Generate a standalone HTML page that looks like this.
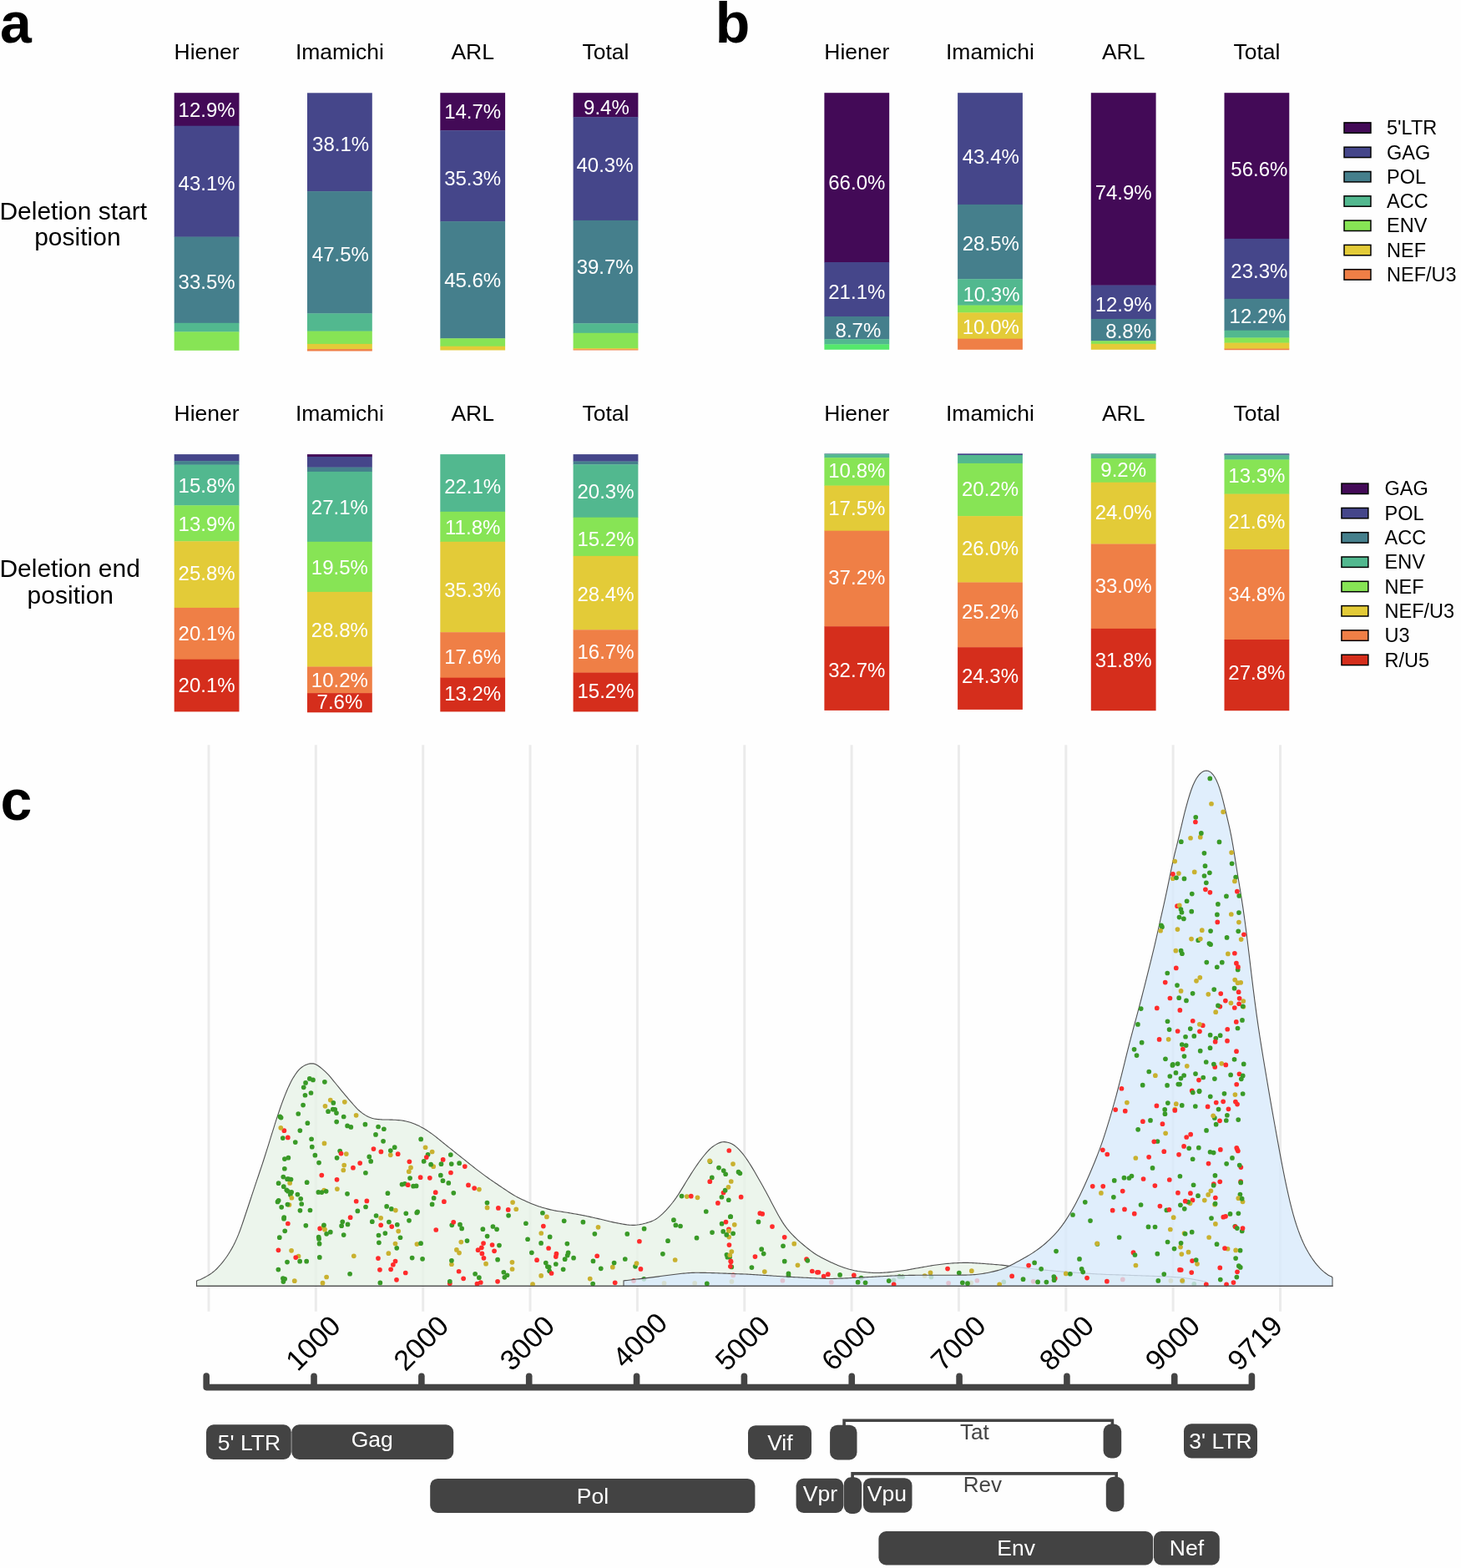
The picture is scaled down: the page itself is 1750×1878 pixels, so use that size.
<!DOCTYPE html>
<html><head><meta charset="utf-8"><title>Figure</title>
<style>
html,body{margin:0;padding:0;background:#fefefe;}
svg{display:block;}
text{font-family:'Liberation Sans', Arial, Helvetica, sans-serif;}
.pct{font-size:24px;fill:#fff;text-anchor:middle;}
.hdr{font-size:26.5px;fill:#000;text-anchor:middle;}
.leg{font-size:23.5px;fill:#000;}
.row{font-size:30px;fill:#000;}
.pl{font-size:68px;font-weight:bold;fill:#000;}
.tick{font-size:34px;fill:#000;}
.gl{font-size:26.5px;fill:#fff;text-anchor:middle;}
.gl2{font-size:26px;fill:#444;text-anchor:middle;}
</style></head>
<body>
<svg width="1750" height="1878" viewBox="0 0 1750 1878">
<rect width="1750" height="1878" fill="#fefefe"/>
<text x="247.6" y="71.4" class="hdr">Hiener</text>
<text x="406.9" y="71.4" class="hdr">Imamichi</text>
<text x="566.2" y="71.4" class="hdr">ARL</text>
<text x="725.5" y="71.4" class="hdr">Total</text>
<text x="247.6" y="504.3" class="hdr">Hiener</text>
<text x="406.9" y="504.3" class="hdr">Imamichi</text>
<text x="566.2" y="504.3" class="hdr">ARL</text>
<text x="725.5" y="504.3" class="hdr">Total</text>
<text x="1026.3" y="71.2" class="hdr">Hiener</text>
<text x="1186" y="71.2" class="hdr">Imamichi</text>
<text x="1345.7" y="71.2" class="hdr">ARL</text>
<text x="1505.4" y="71.2" class="hdr">Total</text>
<text x="1026.3" y="503.6" class="hdr">Hiener</text>
<text x="1186" y="503.6" class="hdr">Imamichi</text>
<text x="1345.7" y="503.6" class="hdr">ARL</text>
<text x="1505.4" y="503.6" class="hdr">Total</text>
<rect x="208.7" y="111.2" width="77.8" height="39.8" fill="#430a57"/>
<rect x="208.7" y="150.7" width="77.8" height="133.2" fill="#45468a"/>
<rect x="208.7" y="283.6" width="77.8" height="103.5" fill="#457f8c"/>
<rect x="208.7" y="386.8" width="77.8" height="10.9" fill="#52b88f"/>
<rect x="208.7" y="397.4" width="77.8" height="22.4" fill="#87e455"/>
<text x="247.6" y="140.4" class="pct">12.9%</text>
<text x="247.6" y="228.2" class="pct">43.1%</text>
<text x="247.6" y="345.6" class="pct">33.5%</text>
<rect x="368" y="111.3" width="77.8" height="118.1" fill="#45468a"/>
<rect x="368" y="229.1" width="77.8" height="146.6" fill="#457f8c"/>
<rect x="368" y="375.4" width="77.8" height="21.5" fill="#52b88f"/>
<rect x="368" y="396.6" width="77.8" height="15.6" fill="#87e455"/>
<rect x="368" y="411.9" width="77.8" height="6.5" fill="#e3cb38"/>
<rect x="368" y="418.1" width="77.8" height="2.4" fill="#ef7f46"/>
<text x="408.1" y="181.3" class="pct">38.1%</text>
<text x="407.9" y="313.1" class="pct">47.5%</text>
<rect x="527.3" y="111.2" width="77.8" height="45.3" fill="#430a57"/>
<rect x="527.3" y="156.2" width="77.8" height="109.2" fill="#45468a"/>
<rect x="527.3" y="265.1" width="77.8" height="140.5" fill="#457f8c"/>
<rect x="527.3" y="405.3" width="77.8" height="9.7" fill="#87e455"/>
<rect x="527.3" y="414.7" width="77.8" height="4.8" fill="#e3cb38"/>
<text x="566.2" y="142.2" class="pct">14.7%</text>
<text x="566.2" y="221.9" class="pct">35.3%</text>
<text x="566.2" y="344.2" class="pct">45.6%</text>
<rect x="686.6" y="111.2" width="77.8" height="29.2" fill="#430a57"/>
<rect x="686.6" y="140.1" width="77.8" height="124.1" fill="#45468a"/>
<rect x="686.6" y="263.9" width="77.8" height="123.7" fill="#457f8c"/>
<rect x="686.6" y="387.3" width="77.8" height="11.8" fill="#52b88f"/>
<rect x="686.6" y="398.8" width="77.8" height="18.6" fill="#87e455"/>
<rect x="686.6" y="417.1" width="77.8" height="1.6" fill="#e3cb38"/>
<rect x="686.6" y="418.4" width="77.8" height="1.1" fill="#ef7f46"/>
<text x="726.4" y="136.9" class="pct">9.4%</text>
<text x="724.5" y="206.3" class="pct">40.3%</text>
<text x="724.7" y="328.4" class="pct">39.7%</text>
<rect x="208.7" y="544.1" width="77.8" height="8.3" fill="#45468a"/>
<rect x="208.7" y="552.1" width="77.8" height="4.8" fill="#457f8c"/>
<rect x="208.7" y="556.6" width="77.8" height="49" fill="#52b88f"/>
<rect x="208.7" y="605.3" width="77.8" height="43.3" fill="#87e455"/>
<rect x="208.7" y="648.3" width="77.8" height="79.9" fill="#e3cb38"/>
<rect x="208.7" y="727.9" width="77.8" height="62.1" fill="#ef7f46"/>
<rect x="208.7" y="789.7" width="77.8" height="62.7" fill="#d52e1c"/>
<text x="247.6" y="589.5" class="pct">15.8%</text>
<text x="247.6" y="636" class="pct">13.9%</text>
<text x="247.6" y="694.9" class="pct">25.8%</text>
<text x="247.6" y="766.9" class="pct">20.1%</text>
<text x="247.6" y="829.3" class="pct">20.1%</text>
<rect x="368" y="544.1" width="77.8" height="3.2" fill="#430a57"/>
<rect x="368" y="547" width="77.8" height="12.9" fill="#45468a"/>
<rect x="368" y="559.6" width="77.8" height="5.6" fill="#457f8c"/>
<rect x="368" y="564.9" width="77.8" height="84.2" fill="#52b88f"/>
<rect x="368" y="648.8" width="77.8" height="60.4" fill="#87e455"/>
<rect x="368" y="708.9" width="77.8" height="89.9" fill="#e3cb38"/>
<rect x="368" y="798.5" width="77.8" height="31.9" fill="#ef7f46"/>
<rect x="368" y="830.1" width="77.8" height="23.2" fill="#d52e1c"/>
<text x="406.9" y="615.8" class="pct">27.1%</text>
<text x="406.9" y="687.8" class="pct">19.5%</text>
<text x="406.9" y="762.5" class="pct">28.8%</text>
<text x="406.9" y="823.1" class="pct">10.2%</text>
<text x="406.9" y="848.6" class="pct">7.6%</text>
<rect x="527.3" y="544.1" width="77.8" height="69" fill="#52b88f"/>
<rect x="527.3" y="612.8" width="77.8" height="36.3" fill="#87e455"/>
<rect x="527.3" y="648.8" width="77.8" height="108.7" fill="#e3cb38"/>
<rect x="527.3" y="757.2" width="77.8" height="54.8" fill="#ef7f46"/>
<rect x="527.3" y="811.7" width="77.8" height="40.7" fill="#d52e1c"/>
<text x="566.2" y="590.9" class="pct">22.1%</text>
<text x="566.2" y="640.4" class="pct">11.8%</text>
<text x="566.2" y="714.6" class="pct">35.3%</text>
<text x="566.2" y="795" class="pct">17.6%</text>
<text x="566.2" y="838.9" class="pct">13.2%</text>
<rect x="686.6" y="544.1" width="77.8" height="8.7" fill="#45468a"/>
<rect x="686.6" y="552.5" width="77.8" height="4.1" fill="#457f8c"/>
<rect x="686.6" y="556.3" width="77.8" height="63.7" fill="#52b88f"/>
<rect x="686.6" y="619.7" width="77.8" height="46.5" fill="#87e455"/>
<rect x="686.6" y="665.9" width="77.8" height="88.7" fill="#e3cb38"/>
<rect x="686.6" y="754.3" width="77.8" height="51.6" fill="#ef7f46"/>
<rect x="686.6" y="805.6" width="77.8" height="46.8" fill="#d52e1c"/>
<text x="725.5" y="597.4" class="pct">20.3%</text>
<text x="725.5" y="654.1" class="pct">15.2%</text>
<text x="725.5" y="720.3" class="pct">28.4%</text>
<text x="725.5" y="788.9" class="pct">16.7%</text>
<text x="725.5" y="836.3" class="pct">15.2%</text>
<rect x="987.4" y="111.2" width="77.8" height="203.1" fill="#430a57"/>
<rect x="987.4" y="314" width="77.8" height="65.3" fill="#45468a"/>
<rect x="987.4" y="379" width="77.8" height="27.5" fill="#457f8c"/>
<rect x="987.4" y="406.2" width="77.8" height="6.5" fill="#52b88f"/>
<rect x="987.4" y="412.4" width="77.8" height="6.4" fill="#55e86c"/>
<text x="1026.3" y="227.4" class="pct">66.0%</text>
<text x="1026.3" y="358.3" class="pct">21.1%</text>
<text x="1027.9" y="403.9" class="pct">8.7%</text>
<rect x="1147.1" y="111.2" width="77.8" height="134" fill="#45468a"/>
<rect x="1147.1" y="244.9" width="77.8" height="89.6" fill="#457f8c"/>
<rect x="1147.1" y="334.2" width="77.8" height="31.7" fill="#52b88f"/>
<rect x="1147.1" y="365.6" width="77.8" height="9.1" fill="#87e455"/>
<rect x="1147.1" y="374.4" width="77.8" height="31.6" fill="#e3cb38"/>
<rect x="1147.1" y="405.7" width="77.8" height="13.1" fill="#ef7f46"/>
<text x="1186.8" y="196.3" class="pct">43.4%</text>
<text x="1186.8" y="300.3" class="pct">28.5%</text>
<text x="1187.5" y="360.9" class="pct">10.3%</text>
<text x="1186.8" y="399.5" class="pct">10.0%</text>
<rect x="1306.8" y="111.2" width="77.8" height="230.7" fill="#430a57"/>
<rect x="1306.8" y="341.6" width="77.8" height="40.7" fill="#45468a"/>
<rect x="1306.8" y="382" width="77.8" height="26.6" fill="#457f8c"/>
<rect x="1306.8" y="408.3" width="77.8" height="3.8" fill="#87e455"/>
<rect x="1306.8" y="411.8" width="77.8" height="7" fill="#e3cb38"/>
<text x="1345.7" y="239.3" class="pct">74.9%</text>
<text x="1345.7" y="372.8" class="pct">12.9%</text>
<text x="1351.7" y="405.3" class="pct">8.8%</text>
<rect x="1466.5" y="111.2" width="77.8" height="175" fill="#430a57"/>
<rect x="1466.5" y="285.9" width="77.8" height="72.3" fill="#45468a"/>
<rect x="1466.5" y="357.9" width="77.8" height="38.1" fill="#457f8c"/>
<rect x="1466.5" y="395.7" width="77.8" height="9.1" fill="#52b88f"/>
<rect x="1466.5" y="404.5" width="77.8" height="6.4" fill="#87e455"/>
<rect x="1466.5" y="410.6" width="77.8" height="7.3" fill="#e3cb38"/>
<rect x="1466.5" y="417.6" width="77.8" height="1.6" fill="#ef7f46"/>
<text x="1508.4" y="210.7" class="pct">56.6%</text>
<text x="1508.4" y="332.8" class="pct">23.3%</text>
<text x="1506.6" y="387.2" class="pct">12.2%</text>
<rect x="987.4" y="543.3" width="77.8" height="1.2" fill="#457f8c"/>
<rect x="987.4" y="544.2" width="77.8" height="4.3" fill="#52b88f"/>
<rect x="987.4" y="548.2" width="77.8" height="33.7" fill="#87e455"/>
<rect x="987.4" y="581.6" width="77.8" height="54.4" fill="#e3cb38"/>
<rect x="987.4" y="635.7" width="77.8" height="114.8" fill="#ef7f46"/>
<rect x="987.4" y="750.2" width="77.8" height="100.7" fill="#d52e1c"/>
<text x="1026.3" y="572.4" class="pct">10.8%</text>
<text x="1026.3" y="616.7" class="pct">17.5%</text>
<text x="1026.3" y="699.6" class="pct">37.2%</text>
<text x="1026.3" y="810.8" class="pct">32.7%</text>
<rect x="1147.1" y="543.3" width="77.8" height="2" fill="#45468a"/>
<rect x="1147.1" y="545" width="77.8" height="10.2" fill="#52b88f"/>
<rect x="1147.1" y="554.9" width="77.8" height="63.5" fill="#87e455"/>
<rect x="1147.1" y="618.1" width="77.8" height="79.7" fill="#e3cb38"/>
<rect x="1147.1" y="697.5" width="77.8" height="78" fill="#ef7f46"/>
<rect x="1147.1" y="775.2" width="77.8" height="74.7" fill="#d52e1c"/>
<text x="1186" y="593.5" class="pct">20.2%</text>
<text x="1186" y="664.5" class="pct">26.0%</text>
<text x="1186" y="740.6" class="pct">25.2%</text>
<text x="1186" y="818.2" class="pct">24.3%</text>
<rect x="1306.8" y="543.3" width="77.8" height="1.2" fill="#457f8c"/>
<rect x="1306.8" y="544.2" width="77.8" height="5.2" fill="#52b88f"/>
<rect x="1306.8" y="549.1" width="77.8" height="28.9" fill="#87e455"/>
<rect x="1306.8" y="577.7" width="77.8" height="74.1" fill="#e3cb38"/>
<rect x="1306.8" y="651.5" width="77.8" height="101.7" fill="#ef7f46"/>
<rect x="1306.8" y="752.9" width="77.8" height="98.3" fill="#d52e1c"/>
<text x="1345.7" y="571" class="pct">9.2%</text>
<text x="1345.7" y="622.3" class="pct">24.0%</text>
<text x="1345.7" y="710.2" class="pct">33.0%</text>
<text x="1345.7" y="799.4" class="pct">31.8%</text>
<rect x="1466.5" y="543.3" width="77.8" height="1.4" fill="#45468a"/>
<rect x="1466.5" y="544.4" width="77.8" height="1.3" fill="#457f8c"/>
<rect x="1466.5" y="545.4" width="77.8" height="5.4" fill="#52b88f"/>
<rect x="1466.5" y="550.5" width="77.8" height="41.4" fill="#87e455"/>
<rect x="1466.5" y="591.6" width="77.8" height="66.7" fill="#e3cb38"/>
<rect x="1466.5" y="658" width="77.8" height="108.3" fill="#ef7f46"/>
<rect x="1466.5" y="766" width="77.8" height="85.2" fill="#d52e1c"/>
<text x="1505.4" y="578" class="pct">13.3%</text>
<text x="1505.4" y="632.5" class="pct">21.6%</text>
<text x="1505.4" y="719.5" class="pct">34.8%</text>
<text x="1505.4" y="813.5" class="pct">27.8%</text>
<rect x="1610.05" y="146.9" width="31.9" height="12.4" fill="#430a57" stroke="#000" stroke-width="1.5"/>
<text x="1661" y="161.2" class="leg">5'LTR</text>
<rect x="1610.05" y="176.2" width="31.9" height="12.4" fill="#45468a" stroke="#000" stroke-width="1.5"/>
<text x="1661" y="190.5" class="leg">GAG</text>
<rect x="1610.05" y="205.5" width="31.9" height="12.4" fill="#457f8c" stroke="#000" stroke-width="1.5"/>
<text x="1661" y="219.8" class="leg">POL</text>
<rect x="1610.05" y="234.8" width="31.9" height="12.4" fill="#52b88f" stroke="#000" stroke-width="1.5"/>
<text x="1661" y="249.1" class="leg">ACC</text>
<rect x="1610.05" y="264.1" width="31.9" height="12.4" fill="#87e455" stroke="#000" stroke-width="1.5"/>
<text x="1661" y="278.4" class="leg">ENV</text>
<rect x="1610.05" y="293.4" width="31.9" height="12.4" fill="#e3cb38" stroke="#000" stroke-width="1.5"/>
<text x="1661" y="307.7" class="leg">NEF</text>
<rect x="1610.05" y="322.7" width="31.9" height="12.4" fill="#ef7f46" stroke="#000" stroke-width="1.5"/>
<text x="1661" y="337" class="leg">NEF/U3</text>
<rect x="1606.95" y="579.1" width="31.9" height="12.4" fill="#430a57" stroke="#000" stroke-width="1.5"/>
<text x="1658.5" y="593.4" class="leg">GAG</text>
<rect x="1606.95" y="608.4" width="31.9" height="12.4" fill="#45468a" stroke="#000" stroke-width="1.5"/>
<text x="1658.5" y="622.7" class="leg">POL</text>
<rect x="1606.95" y="637.7" width="31.9" height="12.4" fill="#457f8c" stroke="#000" stroke-width="1.5"/>
<text x="1658.5" y="652" class="leg">ACC</text>
<rect x="1606.95" y="667" width="31.9" height="12.4" fill="#52b88f" stroke="#000" stroke-width="1.5"/>
<text x="1658.5" y="681.3" class="leg">ENV</text>
<rect x="1606.95" y="696.3" width="31.9" height="12.4" fill="#87e455" stroke="#000" stroke-width="1.5"/>
<text x="1658.5" y="710.6" class="leg">NEF</text>
<rect x="1606.95" y="725.6" width="31.9" height="12.4" fill="#e3cb38" stroke="#000" stroke-width="1.5"/>
<text x="1658.5" y="739.9" class="leg">NEF/U3</text>
<rect x="1606.95" y="754.9" width="31.9" height="12.4" fill="#ef7f46" stroke="#000" stroke-width="1.5"/>
<text x="1658.5" y="769.2" class="leg">U3</text>
<rect x="1606.95" y="784.2" width="31.9" height="12.4" fill="#d52e1c" stroke="#000" stroke-width="1.5"/>
<text x="1658.5" y="798.5" class="leg">R/U5</text>
<text x="-0.6" y="262.6" class="row">Deletion start</text>
<text x="41.2" y="293.8" class="row">position</text>
<text x="-0.6" y="691.2" class="row">Deletion end</text>
<text x="32.6" y="722.6" class="row">position</text>
<text x="0" y="51" class="pl">a</text>
<text x="856.7" y="50.7" class="pl">b</text>
<text x="0.5" y="981.5" class="pl">c</text>
<line x1="250" y1="892.3" x2="250" y2="1570.8" stroke="#ebebeb" stroke-width="3"/>
<line x1="378.35" y1="892.3" x2="378.35" y2="1570.8" stroke="#ebebeb" stroke-width="3"/>
<line x1="506.7" y1="892.3" x2="506.7" y2="1570.8" stroke="#ebebeb" stroke-width="3"/>
<line x1="635.05" y1="892.3" x2="635.05" y2="1570.8" stroke="#ebebeb" stroke-width="3"/>
<line x1="763.4" y1="892.3" x2="763.4" y2="1570.8" stroke="#ebebeb" stroke-width="3"/>
<line x1="891.75" y1="892.3" x2="891.75" y2="1570.8" stroke="#ebebeb" stroke-width="3"/>
<line x1="1020.1" y1="892.3" x2="1020.1" y2="1570.8" stroke="#ebebeb" stroke-width="3"/>
<line x1="1148.45" y1="892.3" x2="1148.45" y2="1570.8" stroke="#ebebeb" stroke-width="3"/>
<line x1="1276.8" y1="892.3" x2="1276.8" y2="1570.8" stroke="#ebebeb" stroke-width="3"/>
<line x1="1405.15" y1="892.3" x2="1405.15" y2="1570.8" stroke="#ebebeb" stroke-width="3"/>
<line x1="1533.5" y1="892.3" x2="1533.5" y2="1570.8" stroke="#ebebeb" stroke-width="3"/>
<path d="M235.5,1534.2 L237.5,1533.26 L239.5,1532.66 L241.5,1531.83 L243.5,1530.83 L245.5,1529.75 L247.5,1528.62 L249.5,1527.45 L251.5,1526.19 L253.5,1524.83 L255.5,1523.31 L257.5,1521.62 L259.5,1519.74 L261.5,1517.69 L263.5,1515.49 L265.5,1513.15 L267.5,1510.66 L269.5,1508.03 L271.5,1505.22 L273.5,1502.23 L275.5,1499.04 L277.5,1495.62 L279.5,1491.94 L281.5,1487.96 L283.5,1483.63 L285.5,1478.89 L287.5,1473.71 L289.5,1468.11 L291.5,1462.24 L293.5,1456.24 L295.5,1450.24 L297.5,1444.24 L299.5,1438.22 L301.5,1432.19 L303.5,1426.15 L305.5,1420.14 L307.5,1414.18 L309.5,1408.24 L311.5,1402.29 L313.5,1396.3 L315.5,1390.22 L317.5,1384.02 L319.5,1377.7 L321.5,1371.3 L323.5,1364.88 L325.5,1358.46 L327.5,1352.04 L329.5,1345.66 L331.5,1339.39 L333.5,1333.32 L335.5,1327.5 L337.5,1321.91 L339.5,1316.53 L341.5,1311.37 L343.5,1306.47 L345.5,1301.9 L347.5,1297.69 L349.5,1293.84 L351.5,1290.35 L353.5,1287.2 L355.5,1284.41 L357.5,1281.98 L359.5,1279.92 L361.5,1278.22 L363.5,1276.87 L365.5,1275.8 L367.5,1274.95 L369.5,1274.3 L371.5,1273.85 L373.5,1273.68 L375.5,1273.89 L377.5,1274.53 L379.5,1275.55 L381.5,1276.82 L383.5,1278.28 L385.5,1279.88 L387.5,1281.6 L389.5,1283.44 L391.5,1285.39 L393.5,1287.48 L395.5,1289.71 L397.5,1292.07 L399.5,1294.53 L401.5,1297.02 L403.5,1299.5 L405.5,1301.96 L407.5,1304.38 L409.5,1306.79 L411.5,1309.19 L413.5,1311.57 L415.5,1313.93 L417.5,1316.27 L419.5,1318.61 L421.5,1320.94 L423.5,1323.25 L425.5,1325.48 L427.5,1327.59 L429.5,1329.53 L431.5,1331.29 L433.5,1332.89 L435.5,1334.33 L437.5,1335.62 L439.5,1336.77 L441.5,1337.76 L443.5,1338.59 L445.5,1339.25 L447.5,1339.75 L449.5,1340.12 L451.5,1340.39 L453.5,1340.6 L455.5,1340.78 L457.5,1340.91 L459.5,1340.99 L461.5,1341.03 L463.5,1341.04 L465.5,1341.06 L467.5,1341.1 L469.5,1341.16 L471.5,1341.23 L473.5,1341.32 L475.5,1341.43 L477.5,1341.59 L479.5,1341.8 L481.5,1342.08 L483.5,1342.41 L485.5,1342.8 L487.5,1343.24 L489.5,1343.76 L491.5,1344.34 L493.5,1345 L495.5,1345.73 L497.5,1346.54 L499.5,1347.42 L501.5,1348.36 L503.5,1349.37 L505.5,1350.44 L507.5,1351.58 L509.5,1352.78 L511.5,1354.04 L513.5,1355.37 L515.5,1356.74 L517.5,1358.16 L519.5,1359.64 L521.5,1361.17 L523.5,1362.75 L525.5,1364.37 L527.5,1366 L529.5,1367.63 L531.5,1369.25 L533.5,1370.86 L535.5,1372.47 L537.5,1374.08 L539.5,1375.68 L541.5,1377.28 L543.5,1378.88 L545.5,1380.47 L547.5,1382.06 L549.5,1383.64 L551.5,1385.23 L553.5,1386.82 L555.5,1388.41 L557.5,1390.01 L559.5,1391.62 L561.5,1393.23 L563.5,1394.84 L565.5,1396.44 L567.5,1398.02 L569.5,1399.58 L571.5,1401.12 L573.5,1402.65 L575.5,1404.16 L577.5,1405.65 L579.5,1407.12 L581.5,1408.58 L583.5,1410.01 L585.5,1411.43 L587.5,1412.83 L589.5,1414.22 L591.5,1415.59 L593.5,1416.96 L595.5,1418.32 L597.5,1419.68 L599.5,1421.03 L601.5,1422.38 L603.5,1423.71 L605.5,1425.04 L607.5,1426.36 L609.5,1427.67 L611.5,1428.98 L613.5,1430.26 L615.5,1431.49 L617.5,1432.64 L619.5,1433.71 L621.5,1434.73 L623.5,1435.71 L625.5,1436.67 L627.5,1437.62 L629.5,1438.54 L631.5,1439.44 L633.5,1440.32 L635.5,1441.18 L637.5,1442 L639.5,1442.78 L641.5,1443.53 L643.5,1444.24 L645.5,1444.91 L647.5,1445.56 L649.5,1446.18 L651.5,1446.77 L653.5,1447.33 L655.5,1447.86 L657.5,1448.37 L659.5,1448.86 L661.5,1449.31 L663.5,1449.72 L665.5,1450.09 L667.5,1450.44 L669.5,1450.76 L671.5,1451.07 L673.5,1451.38 L675.5,1451.68 L677.5,1452 L679.5,1452.32 L681.5,1452.66 L683.5,1453.01 L685.5,1453.35 L687.5,1453.7 L689.5,1454.05 L691.5,1454.41 L693.5,1454.77 L695.5,1455.14 L697.5,1455.52 L699.5,1455.91 L701.5,1456.31 L703.5,1456.73 L705.5,1457.15 L707.5,1457.59 L709.5,1458.03 L711.5,1458.48 L713.5,1458.93 L715.5,1459.38 L717.5,1459.84 L719.5,1460.29 L721.5,1460.76 L723.5,1461.23 L725.5,1461.72 L727.5,1462.21 L729.5,1462.7 L731.5,1463.18 L733.5,1463.64 L735.5,1464.09 L737.5,1464.5 L739.5,1464.89 L741.5,1465.27 L743.5,1465.64 L745.5,1465.99 L747.5,1466.34 L749.5,1466.65 L751.5,1466.93 L753.5,1467.15 L755.5,1467.3 L757.5,1467.36 L759.5,1467.34 L761.5,1467.22 L763.5,1467.01 L765.5,1466.72 L767.5,1466.37 L769.5,1465.95 L771.5,1465.48 L773.5,1464.97 L775.5,1464.4 L777.5,1463.79 L779.5,1463.11 L781.5,1462.32 L783.5,1461.38 L785.5,1460.24 L787.5,1458.89 L789.5,1457.37 L791.5,1455.69 L793.5,1453.89 L795.5,1451.94 L797.5,1449.87 L799.5,1447.68 L801.5,1445.38 L803.5,1442.98 L805.5,1440.48 L807.5,1437.85 L809.5,1435.09 L811.5,1432.18 L813.5,1429.11 L815.5,1425.91 L817.5,1422.64 L819.5,1419.35 L821.5,1416.07 L823.5,1412.82 L825.5,1409.59 L827.5,1406.4 L829.5,1403.27 L831.5,1400.21 L833.5,1397.24 L835.5,1394.34 L837.5,1391.54 L839.5,1388.83 L841.5,1386.23 L843.5,1383.73 L845.5,1381.34 L847.5,1379.08 L849.5,1377 L851.5,1375.13 L853.5,1373.5 L855.5,1372.1 L857.5,1370.88 L859.5,1369.8 L861.5,1368.87 L863.5,1368.13 L865.5,1367.72 L867.5,1367.67 L869.5,1367.88 L871.5,1368.26 L873.5,1368.79 L875.5,1369.53 L877.5,1370.52 L879.5,1371.79 L881.5,1373.32 L883.5,1375.1 L885.5,1377.09 L887.5,1379.28 L889.5,1381.66 L891.5,1384.24 L893.5,1387 L895.5,1389.91 L897.5,1392.94 L899.5,1396.1 L901.5,1399.36 L903.5,1402.74 L905.5,1406.19 L907.5,1409.68 L909.5,1413.19 L911.5,1416.73 L913.5,1420.3 L915.5,1423.91 L917.5,1427.57 L919.5,1431.29 L921.5,1435.09 L923.5,1438.93 L925.5,1442.77 L927.5,1446.56 L929.5,1450.27 L931.5,1453.91 L933.5,1457.45 L935.5,1460.88 L937.5,1464.12 L939.5,1467.14 L941.5,1469.92 L943.5,1472.47 L945.5,1474.85 L947.5,1477.09 L949.5,1479.22 L951.5,1481.25 L953.5,1483.18 L955.5,1485.03 L957.5,1486.81 L959.5,1488.56 L961.5,1490.28 L963.5,1491.97 L965.5,1493.63 L967.5,1495.23 L969.5,1496.8 L971.5,1498.32 L973.5,1499.78 L975.5,1501.17 L977.5,1502.47 L979.5,1503.67 L981.5,1504.81 L983.5,1505.9 L985.5,1506.97 L987.5,1508.01 L989.5,1509.03 L991.5,1510.03 L993.5,1511.01 L995.5,1511.96 L997.5,1512.87 L999.5,1513.76 L1001.5,1514.61 L1003.5,1515.43 L1005.5,1516.23 L1007.5,1517 L1009.5,1517.73 L1011.5,1518.43 L1013.5,1519.1 L1015.5,1519.72 L1017.5,1520.3 L1019.5,1520.83 L1021.5,1521.32 L1023.5,1521.75 L1025.5,1522.13 L1027.5,1522.48 L1029.5,1522.78 L1031.5,1523.06 L1033.5,1523.31 L1035.5,1523.54 L1037.5,1523.75 L1039.5,1523.94 L1041.5,1524.12 L1043.5,1524.28 L1045.5,1524.41 L1047.5,1524.49 L1049.5,1524.53 L1051.5,1524.53 L1053.5,1524.48 L1055.5,1524.4 L1057.5,1524.3 L1059.5,1524.16 L1061.5,1524.01 L1063.5,1523.84 L1065.5,1523.65 L1067.5,1523.45 L1069.5,1523.25 L1071.5,1523.03 L1073.5,1522.8 L1075.5,1522.56 L1077.5,1522.31 L1079.5,1522.05 L1081.5,1521.78 L1083.5,1521.48 L1085.5,1521.17 L1087.5,1520.84 L1089.5,1520.49 L1091.5,1520.13 L1093.5,1519.77 L1095.5,1519.4 L1097.5,1519.04 L1099.5,1518.69 L1101.5,1518.34 L1103.5,1517.99 L1105.5,1517.63 L1107.5,1517.27 L1109.5,1516.92 L1111.5,1516.57 L1113.5,1516.23 L1115.5,1515.9 L1117.5,1515.58 L1119.5,1515.28 L1121.5,1515 L1123.5,1514.73 L1125.5,1514.47 L1127.5,1514.23 L1129.5,1513.99 L1131.5,1513.77 L1133.5,1513.57 L1135.5,1513.38 L1137.5,1513.2 L1139.5,1513.05 L1141.5,1512.91 L1143.5,1512.79 L1145.5,1512.68 L1147.5,1512.59 L1149.5,1512.52 L1151.5,1512.46 L1153.5,1512.42 L1155.5,1512.4 L1157.5,1512.39 L1159.5,1512.41 L1161.5,1512.45 L1163.5,1512.52 L1165.5,1512.61 L1167.5,1512.71 L1169.5,1512.84 L1171.5,1512.97 L1173.5,1513.12 L1175.5,1513.27 L1177.5,1513.42 L1179.5,1513.56 L1181.5,1513.7 L1183.5,1513.84 L1185.5,1513.99 L1187.5,1514.13 L1189.5,1514.28 L1191.5,1514.44 L1193.5,1514.6 L1195.5,1514.77 L1197.5,1514.96 L1199.5,1515.16 L1201.5,1515.38 L1203.5,1515.62 L1205.5,1515.87 L1207.5,1516.14 L1209.5,1516.42 L1211.5,1516.7 L1213.5,1516.97 L1215.5,1517.23 L1217.5,1517.49 L1219.5,1517.73 L1221.5,1517.97 L1223.5,1518.2 L1225.5,1518.42 L1227.5,1518.65 L1229.5,1518.87 L1231.5,1519.09 L1233.5,1519.3 L1235.5,1519.52 L1237.5,1519.73 L1239.5,1519.94 L1241.5,1520.15 L1243.5,1520.35 L1245.5,1520.55 L1247.5,1520.75 L1249.5,1520.95 L1251.5,1521.14 L1253.5,1521.33 L1255.5,1521.52 L1257.5,1521.71 L1259.5,1521.9 L1261.5,1522.08 L1263.5,1522.26 L1265.5,1522.43 L1267.5,1522.6 L1269.5,1522.77 L1271.5,1522.94 L1273.5,1523.1 L1275.5,1523.26 L1277.5,1523.41 L1279.5,1523.56 L1281.5,1523.71 L1283.5,1523.86 L1285.5,1524 L1287.5,1524.15 L1289.5,1524.29 L1291.5,1524.43 L1293.5,1524.57 L1295.5,1524.71 L1297.5,1524.85 L1299.5,1524.98 L1301.5,1525.11 L1303.5,1525.24 L1305.5,1525.37 L1307.5,1525.49 L1309.5,1525.62 L1311.5,1525.73 L1313.5,1525.85 L1315.5,1525.96 L1317.5,1526.07 L1319.5,1526.17 L1321.5,1526.27 L1323.5,1526.36 L1325.5,1526.45 L1327.5,1526.53 L1329.5,1526.6 L1331.5,1526.67 L1333.5,1526.74 L1335.5,1526.8 L1337.5,1526.86 L1339.5,1526.92 L1341.5,1526.98 L1343.5,1527.04 L1345.5,1527.1 L1347.5,1527.16 L1349.5,1527.22 L1351.5,1527.29 L1353.5,1527.36 L1355.5,1527.43 L1357.5,1527.5 L1359.5,1527.58 L1361.5,1527.66 L1363.5,1527.73 L1365.5,1527.81 L1367.5,1527.88 L1369.5,1527.95 L1371.5,1528.02 L1373.5,1528.09 L1375.5,1528.16 L1377.5,1528.23 L1379.5,1528.3 L1381.5,1528.37 L1383.5,1528.44 L1385.5,1528.52 L1387.5,1528.59 L1389.5,1528.67 L1391.5,1528.75 L1393.5,1528.84 L1395.5,1528.93 L1397.5,1529.02 L1399.5,1529.12 L1401.5,1529.23 L1403.5,1529.34 L1405.5,1529.46 L1407.5,1529.59 L1409.5,1529.73 L1411.5,1529.89 L1413.5,1530.06 L1415.5,1530.26 L1417.5,1530.48 L1419.5,1530.72 L1421.5,1530.99 L1423.5,1531.27 L1425.5,1531.58 L1427.5,1531.9 L1429.5,1532.25 L1431.5,1532.6 L1433.5,1532.98 L1435.5,1533.36 L1437.5,1533.75 L1439.5,1534.13 L1441.5,1534.45 L1443.5,1534.68 L1444,1535 L1444,1540.4 L235.5,1540.4 Z" fill="rgba(231,243,231,0.8)" stroke="none"/>
<path d="M235.5,1540.4 L235.5,1534.2 L237.5,1533.26 L239.5,1532.66 L241.5,1531.83 L243.5,1530.83 L245.5,1529.75 L247.5,1528.62 L249.5,1527.45 L251.5,1526.19 L253.5,1524.83 L255.5,1523.31 L257.5,1521.62 L259.5,1519.74 L261.5,1517.69 L263.5,1515.49 L265.5,1513.15 L267.5,1510.66 L269.5,1508.03 L271.5,1505.22 L273.5,1502.23 L275.5,1499.04 L277.5,1495.62 L279.5,1491.94 L281.5,1487.96 L283.5,1483.63 L285.5,1478.89 L287.5,1473.71 L289.5,1468.11 L291.5,1462.24 L293.5,1456.24 L295.5,1450.24 L297.5,1444.24 L299.5,1438.22 L301.5,1432.19 L303.5,1426.15 L305.5,1420.14 L307.5,1414.18 L309.5,1408.24 L311.5,1402.29 L313.5,1396.3 L315.5,1390.22 L317.5,1384.02 L319.5,1377.7 L321.5,1371.3 L323.5,1364.88 L325.5,1358.46 L327.5,1352.04 L329.5,1345.66 L331.5,1339.39 L333.5,1333.32 L335.5,1327.5 L337.5,1321.91 L339.5,1316.53 L341.5,1311.37 L343.5,1306.47 L345.5,1301.9 L347.5,1297.69 L349.5,1293.84 L351.5,1290.35 L353.5,1287.2 L355.5,1284.41 L357.5,1281.98 L359.5,1279.92 L361.5,1278.22 L363.5,1276.87 L365.5,1275.8 L367.5,1274.95 L369.5,1274.3 L371.5,1273.85 L373.5,1273.68 L375.5,1273.89 L377.5,1274.53 L379.5,1275.55 L381.5,1276.82 L383.5,1278.28 L385.5,1279.88 L387.5,1281.6 L389.5,1283.44 L391.5,1285.39 L393.5,1287.48 L395.5,1289.71 L397.5,1292.07 L399.5,1294.53 L401.5,1297.02 L403.5,1299.5 L405.5,1301.96 L407.5,1304.38 L409.5,1306.79 L411.5,1309.19 L413.5,1311.57 L415.5,1313.93 L417.5,1316.27 L419.5,1318.61 L421.5,1320.94 L423.5,1323.25 L425.5,1325.48 L427.5,1327.59 L429.5,1329.53 L431.5,1331.29 L433.5,1332.89 L435.5,1334.33 L437.5,1335.62 L439.5,1336.77 L441.5,1337.76 L443.5,1338.59 L445.5,1339.25 L447.5,1339.75 L449.5,1340.12 L451.5,1340.39 L453.5,1340.6 L455.5,1340.78 L457.5,1340.91 L459.5,1340.99 L461.5,1341.03 L463.5,1341.04 L465.5,1341.06 L467.5,1341.1 L469.5,1341.16 L471.5,1341.23 L473.5,1341.32 L475.5,1341.43 L477.5,1341.59 L479.5,1341.8 L481.5,1342.08 L483.5,1342.41 L485.5,1342.8 L487.5,1343.24 L489.5,1343.76 L491.5,1344.34 L493.5,1345 L495.5,1345.73 L497.5,1346.54 L499.5,1347.42 L501.5,1348.36 L503.5,1349.37 L505.5,1350.44 L507.5,1351.58 L509.5,1352.78 L511.5,1354.04 L513.5,1355.37 L515.5,1356.74 L517.5,1358.16 L519.5,1359.64 L521.5,1361.17 L523.5,1362.75 L525.5,1364.37 L527.5,1366 L529.5,1367.63 L531.5,1369.25 L533.5,1370.86 L535.5,1372.47 L537.5,1374.08 L539.5,1375.68 L541.5,1377.28 L543.5,1378.88 L545.5,1380.47 L547.5,1382.06 L549.5,1383.64 L551.5,1385.23 L553.5,1386.82 L555.5,1388.41 L557.5,1390.01 L559.5,1391.62 L561.5,1393.23 L563.5,1394.84 L565.5,1396.44 L567.5,1398.02 L569.5,1399.58 L571.5,1401.12 L573.5,1402.65 L575.5,1404.16 L577.5,1405.65 L579.5,1407.12 L581.5,1408.58 L583.5,1410.01 L585.5,1411.43 L587.5,1412.83 L589.5,1414.22 L591.5,1415.59 L593.5,1416.96 L595.5,1418.32 L597.5,1419.68 L599.5,1421.03 L601.5,1422.38 L603.5,1423.71 L605.5,1425.04 L607.5,1426.36 L609.5,1427.67 L611.5,1428.98 L613.5,1430.26 L615.5,1431.49 L617.5,1432.64 L619.5,1433.71 L621.5,1434.73 L623.5,1435.71 L625.5,1436.67 L627.5,1437.62 L629.5,1438.54 L631.5,1439.44 L633.5,1440.32 L635.5,1441.18 L637.5,1442 L639.5,1442.78 L641.5,1443.53 L643.5,1444.24 L645.5,1444.91 L647.5,1445.56 L649.5,1446.18 L651.5,1446.77 L653.5,1447.33 L655.5,1447.86 L657.5,1448.37 L659.5,1448.86 L661.5,1449.31 L663.5,1449.72 L665.5,1450.09 L667.5,1450.44 L669.5,1450.76 L671.5,1451.07 L673.5,1451.38 L675.5,1451.68 L677.5,1452 L679.5,1452.32 L681.5,1452.66 L683.5,1453.01 L685.5,1453.35 L687.5,1453.7 L689.5,1454.05 L691.5,1454.41 L693.5,1454.77 L695.5,1455.14 L697.5,1455.52 L699.5,1455.91 L701.5,1456.31 L703.5,1456.73 L705.5,1457.15 L707.5,1457.59 L709.5,1458.03 L711.5,1458.48 L713.5,1458.93 L715.5,1459.38 L717.5,1459.84 L719.5,1460.29 L721.5,1460.76 L723.5,1461.23 L725.5,1461.72 L727.5,1462.21 L729.5,1462.7 L731.5,1463.18 L733.5,1463.64 L735.5,1464.09 L737.5,1464.5 L739.5,1464.89 L741.5,1465.27 L743.5,1465.64 L745.5,1465.99 L747.5,1466.34 L749.5,1466.65 L751.5,1466.93 L753.5,1467.15 L755.5,1467.3 L757.5,1467.36 L759.5,1467.34 L761.5,1467.22 L763.5,1467.01 L765.5,1466.72 L767.5,1466.37 L769.5,1465.95 L771.5,1465.48 L773.5,1464.97 L775.5,1464.4 L777.5,1463.79 L779.5,1463.11 L781.5,1462.32 L783.5,1461.38 L785.5,1460.24 L787.5,1458.89 L789.5,1457.37 L791.5,1455.69 L793.5,1453.89 L795.5,1451.94 L797.5,1449.87 L799.5,1447.68 L801.5,1445.38 L803.5,1442.98 L805.5,1440.48 L807.5,1437.85 L809.5,1435.09 L811.5,1432.18 L813.5,1429.11 L815.5,1425.91 L817.5,1422.64 L819.5,1419.35 L821.5,1416.07 L823.5,1412.82 L825.5,1409.59 L827.5,1406.4 L829.5,1403.27 L831.5,1400.21 L833.5,1397.24 L835.5,1394.34 L837.5,1391.54 L839.5,1388.83 L841.5,1386.23 L843.5,1383.73 L845.5,1381.34 L847.5,1379.08 L849.5,1377 L851.5,1375.13 L853.5,1373.5 L855.5,1372.1 L857.5,1370.88 L859.5,1369.8 L861.5,1368.87 L863.5,1368.13 L865.5,1367.72 L867.5,1367.67 L869.5,1367.88 L871.5,1368.26 L873.5,1368.79 L875.5,1369.53 L877.5,1370.52 L879.5,1371.79 L881.5,1373.32 L883.5,1375.1 L885.5,1377.09 L887.5,1379.28 L889.5,1381.66 L891.5,1384.24 L893.5,1387 L895.5,1389.91 L897.5,1392.94 L899.5,1396.1 L901.5,1399.36 L903.5,1402.74 L905.5,1406.19 L907.5,1409.68 L909.5,1413.19 L911.5,1416.73 L913.5,1420.3 L915.5,1423.91 L917.5,1427.57 L919.5,1431.29 L921.5,1435.09 L923.5,1438.93 L925.5,1442.77 L927.5,1446.56 L929.5,1450.27 L931.5,1453.91 L933.5,1457.45 L935.5,1460.88 L937.5,1464.12 L939.5,1467.14 L941.5,1469.92 L943.5,1472.47 L945.5,1474.85 L947.5,1477.09 L949.5,1479.22 L951.5,1481.25 L953.5,1483.18 L955.5,1485.03 L957.5,1486.81 L959.5,1488.56 L961.5,1490.28 L963.5,1491.97 L965.5,1493.63 L967.5,1495.23 L969.5,1496.8 L971.5,1498.32 L973.5,1499.78 L975.5,1501.17 L977.5,1502.47 L979.5,1503.67 L981.5,1504.81 L983.5,1505.9 L985.5,1506.97 L987.5,1508.01 L989.5,1509.03 L991.5,1510.03 L993.5,1511.01 L995.5,1511.96 L997.5,1512.87 L999.5,1513.76 L1001.5,1514.61 L1003.5,1515.43 L1005.5,1516.23 L1007.5,1517 L1009.5,1517.73 L1011.5,1518.43 L1013.5,1519.1 L1015.5,1519.72 L1017.5,1520.3 L1019.5,1520.83 L1021.5,1521.32 L1023.5,1521.75 L1025.5,1522.13 L1027.5,1522.48 L1029.5,1522.78 L1031.5,1523.06 L1033.5,1523.31 L1035.5,1523.54 L1037.5,1523.75 L1039.5,1523.94 L1041.5,1524.12 L1043.5,1524.28 L1045.5,1524.41 L1047.5,1524.49 L1049.5,1524.53 L1051.5,1524.53 L1053.5,1524.48 L1055.5,1524.4 L1057.5,1524.3 L1059.5,1524.16 L1061.5,1524.01 L1063.5,1523.84 L1065.5,1523.65 L1067.5,1523.45 L1069.5,1523.25 L1071.5,1523.03 L1073.5,1522.8 L1075.5,1522.56 L1077.5,1522.31 L1079.5,1522.05 L1081.5,1521.78 L1083.5,1521.48 L1085.5,1521.17 L1087.5,1520.84 L1089.5,1520.49 L1091.5,1520.13 L1093.5,1519.77 L1095.5,1519.4 L1097.5,1519.04 L1099.5,1518.69 L1101.5,1518.34 L1103.5,1517.99 L1105.5,1517.63 L1107.5,1517.27 L1109.5,1516.92 L1111.5,1516.57 L1113.5,1516.23 L1115.5,1515.9 L1117.5,1515.58 L1119.5,1515.28 L1121.5,1515 L1123.5,1514.73 L1125.5,1514.47 L1127.5,1514.23 L1129.5,1513.99 L1131.5,1513.77 L1133.5,1513.57 L1135.5,1513.38 L1137.5,1513.2 L1139.5,1513.05 L1141.5,1512.91 L1143.5,1512.79 L1145.5,1512.68 L1147.5,1512.59 L1149.5,1512.52 L1151.5,1512.46 L1153.5,1512.42 L1155.5,1512.4 L1157.5,1512.39 L1159.5,1512.41 L1161.5,1512.45 L1163.5,1512.52 L1165.5,1512.61 L1167.5,1512.71 L1169.5,1512.84 L1171.5,1512.97 L1173.5,1513.12 L1175.5,1513.27 L1177.5,1513.42 L1179.5,1513.56 L1181.5,1513.7 L1183.5,1513.84 L1185.5,1513.99 L1187.5,1514.13 L1189.5,1514.28 L1191.5,1514.44 L1193.5,1514.6 L1195.5,1514.77 L1197.5,1514.96 L1199.5,1515.16 L1201.5,1515.38 L1203.5,1515.62 L1205.5,1515.87 L1207.5,1516.14 L1209.5,1516.42 L1211.5,1516.7 L1213.5,1516.97 L1215.5,1517.23 L1217.5,1517.49 L1219.5,1517.73 L1221.5,1517.97 L1223.5,1518.2 L1225.5,1518.42 L1227.5,1518.65 L1229.5,1518.87 L1231.5,1519.09 L1233.5,1519.3 L1235.5,1519.52 L1237.5,1519.73 L1239.5,1519.94 L1241.5,1520.15 L1243.5,1520.35 L1245.5,1520.55 L1247.5,1520.75 L1249.5,1520.95 L1251.5,1521.14 L1253.5,1521.33 L1255.5,1521.52 L1257.5,1521.71 L1259.5,1521.9 L1261.5,1522.08 L1263.5,1522.26 L1265.5,1522.43 L1267.5,1522.6 L1269.5,1522.77 L1271.5,1522.94 L1273.5,1523.1 L1275.5,1523.26 L1277.5,1523.41 L1279.5,1523.56 L1281.5,1523.71 L1283.5,1523.86 L1285.5,1524 L1287.5,1524.15 L1289.5,1524.29 L1291.5,1524.43 L1293.5,1524.57 L1295.5,1524.71 L1297.5,1524.85 L1299.5,1524.98 L1301.5,1525.11 L1303.5,1525.24 L1305.5,1525.37 L1307.5,1525.49 L1309.5,1525.62 L1311.5,1525.73 L1313.5,1525.85 L1315.5,1525.96 L1317.5,1526.07 L1319.5,1526.17 L1321.5,1526.27 L1323.5,1526.36 L1325.5,1526.45 L1327.5,1526.53 L1329.5,1526.6 L1331.5,1526.67 L1333.5,1526.74 L1335.5,1526.8 L1337.5,1526.86 L1339.5,1526.92 L1341.5,1526.98 L1343.5,1527.04 L1345.5,1527.1 L1347.5,1527.16 L1349.5,1527.22 L1351.5,1527.29 L1353.5,1527.36 L1355.5,1527.43 L1357.5,1527.5 L1359.5,1527.58 L1361.5,1527.66 L1363.5,1527.73 L1365.5,1527.81 L1367.5,1527.88 L1369.5,1527.95 L1371.5,1528.02 L1373.5,1528.09 L1375.5,1528.16 L1377.5,1528.23 L1379.5,1528.3 L1381.5,1528.37 L1383.5,1528.44 L1385.5,1528.52 L1387.5,1528.59 L1389.5,1528.67 L1391.5,1528.75 L1393.5,1528.84 L1395.5,1528.93 L1397.5,1529.02 L1399.5,1529.12 L1401.5,1529.23 L1403.5,1529.34 L1405.5,1529.46 L1407.5,1529.59 L1409.5,1529.73 L1411.5,1529.89 L1413.5,1530.06 L1415.5,1530.26 L1417.5,1530.48 L1419.5,1530.72 L1421.5,1530.99 L1423.5,1531.27 L1425.5,1531.58 L1427.5,1531.9 L1429.5,1532.25 L1431.5,1532.6 L1433.5,1532.98 L1435.5,1533.36 L1437.5,1533.75 L1439.5,1534.13 L1441.5,1534.45 L1443.5,1534.68 L1444,1535 L1444,1540.4 Z" fill="none" stroke="#505050" stroke-width="1.1"/>
<circle cx="456.17" cy="1467.31" r="2.85" fill="#ff2b2b"/>
<circle cx="395.78" cy="1317.56" r="2.85" fill="#c9b12f"/>
<circle cx="795.52" cy="1536.96" r="2.85" fill="#c9b12f"/>
<circle cx="438.05" cy="1445.51" r="2.85" fill="#399a27"/>
<circle cx="459.87" cy="1352.27" r="2.85" fill="#399a27"/>
<circle cx="638.04" cy="1538.19" r="2.85" fill="#c9b12f"/>
<circle cx="543.29" cy="1428.78" r="2.85" fill="#399a27"/>
<circle cx="333.36" cy="1520.53" r="2.85" fill="#399a27"/>
<circle cx="381.72" cy="1481.72" r="2.85" fill="#399a27"/>
<circle cx="391.13" cy="1529.5" r="2.85" fill="#c9b12f"/>
<circle cx="411.7" cy="1337.51" r="2.85" fill="#399a27"/>
<circle cx="864.61" cy="1465.67" r="2.85" fill="#399a27"/>
<circle cx="420.36" cy="1349.96" r="2.85" fill="#399a27"/>
<circle cx="474.98" cy="1532.83" r="2.85" fill="#ff2b2b"/>
<circle cx="473.54" cy="1510.5" r="2.85" fill="#ff2b2b"/>
<circle cx="475.23" cy="1494.87" r="2.85" fill="#399a27"/>
<circle cx="530.65" cy="1388.88" r="2.85" fill="#ff2b2b"/>
<circle cx="495.09" cy="1420.71" r="2.85" fill="#399a27"/>
<circle cx="454.95" cy="1520.8" r="2.85" fill="#ff2b2b"/>
<circle cx="499.42" cy="1490.06" r="2.85" fill="#c9b12f"/>
<circle cx="614.11" cy="1440.1" r="2.85" fill="#c9b12f"/>
<circle cx="492.02" cy="1398.42" r="2.85" fill="#c9b12f"/>
<circle cx="450.01" cy="1358.94" r="2.85" fill="#399a27"/>
<circle cx="344.06" cy="1412.17" r="2.85" fill="#399a27"/>
<circle cx="450.56" cy="1455.99" r="2.85" fill="#399a27"/>
<circle cx="426.61" cy="1335.86" r="2.85" fill="#c9b12f"/>
<circle cx="347.18" cy="1416.96" r="2.85" fill="#c9b12f"/>
<circle cx="383.2" cy="1471.38" r="2.85" fill="#ff2b2b"/>
<circle cx="386.49" cy="1536.72" r="2.85" fill="#c9b12f"/>
<circle cx="388.88" cy="1295.81" r="2.85" fill="#399a27"/>
<circle cx="653.8" cy="1512.61" r="2.85" fill="#399a27"/>
<circle cx="503.64" cy="1410.17" r="2.85" fill="#ff2b2b"/>
<circle cx="468.12" cy="1520.32" r="2.85" fill="#ff2b2b"/>
<circle cx="465.4" cy="1501.18" r="2.85" fill="#c9b12f"/>
<circle cx="423.83" cy="1504.31" r="2.85" fill="#c9b12f"/>
<circle cx="517.62" cy="1442.46" r="2.85" fill="#399a27"/>
<circle cx="475.79" cy="1466.75" r="2.85" fill="#399a27"/>
<circle cx="382.81" cy="1505.95" r="2.85" fill="#399a27"/>
<circle cx="345.75" cy="1412.17" r="2.85" fill="#399a27"/>
<circle cx="886.39" cy="1405.35" r="2.85" fill="#399a27"/>
<circle cx="649.92" cy="1452.74" r="2.85" fill="#399a27"/>
<circle cx="809.35" cy="1467.38" r="2.85" fill="#399a27"/>
<circle cx="937.46" cy="1533.76" r="2.85" fill="#ff2b2b"/>
<circle cx="419.65" cy="1458.22" r="2.85" fill="#ff2b2b"/>
<circle cx="767.43" cy="1519.9" r="2.85" fill="#ff2b2b"/>
<circle cx="388.21" cy="1425.68" r="2.85" fill="#c9b12f"/>
<circle cx="658.13" cy="1522.3" r="2.85" fill="#399a27"/>
<circle cx="866.51" cy="1428.51" r="2.85" fill="#ff2b2b"/>
<circle cx="426.71" cy="1438.74" r="2.85" fill="#ff2b2b"/>
<circle cx="966.09" cy="1508.19" r="2.85" fill="#ff2b2b"/>
<circle cx="540.9" cy="1514.25" r="2.85" fill="#c9b12f"/>
<circle cx="715.18" cy="1504.25" r="2.85" fill="#ff2b2b"/>
<circle cx="736.69" cy="1536.3" r="2.85" fill="#ff2b2b"/>
<circle cx="793.89" cy="1501.78" r="2.85" fill="#399a27"/>
<circle cx="512.57" cy="1382.86" r="2.85" fill="#399a27"/>
<circle cx="650.85" cy="1468.6" r="2.85" fill="#ff2b2b"/>
<circle cx="852.79" cy="1410.4" r="2.85" fill="#399a27"/>
<circle cx="402.96" cy="1333.07" r="2.85" fill="#399a27"/>
<circle cx="500.12" cy="1451.42" r="2.85" fill="#399a27"/>
<circle cx="583.62" cy="1480.6" r="2.85" fill="#399a27"/>
<circle cx="469.25" cy="1469.08" r="2.85" fill="#ff2b2b"/>
<circle cx="904.46" cy="1505.09" r="2.85" fill="#ff2b2b"/>
<circle cx="924.99" cy="1469.1" r="2.85" fill="#ff2b2b"/>
<circle cx="506.08" cy="1507.83" r="2.85" fill="#399a27"/>
<circle cx="859.89" cy="1440.88" r="2.85" fill="#ff2b2b"/>
<circle cx="344.85" cy="1465.5" r="2.85" fill="#ff2b2b"/>
<circle cx="978.91" cy="1523.78" r="2.85" fill="#ff2b2b"/>
<circle cx="459.07" cy="1366.85" r="2.85" fill="#399a27"/>
<circle cx="712.35" cy="1477.87" r="2.85" fill="#399a27"/>
<circle cx="951.24" cy="1489.7" r="2.85" fill="#c9b12f"/>
<circle cx="550.99" cy="1466.63" r="2.85" fill="#399a27"/>
<circle cx="733.82" cy="1517.72" r="2.85" fill="#c9b12f"/>
<circle cx="453.91" cy="1488.28" r="2.85" fill="#399a27"/>
<circle cx="463.15" cy="1444.88" r="2.85" fill="#399a27"/>
<circle cx="815" cy="1468.51" r="2.85" fill="#399a27"/>
<circle cx="340.07" cy="1459.69" r="2.85" fill="#399a27"/>
<circle cx="986.72" cy="1528.67" r="2.85" fill="#ff2b2b"/>
<circle cx="504.17" cy="1364.47" r="2.85" fill="#399a27"/>
<circle cx="583.58" cy="1446.38" r="2.85" fill="#c9b12f"/>
<circle cx="872.96" cy="1472.29" r="2.85" fill="#ff2b2b"/>
<circle cx="363.09" cy="1323.54" r="2.85" fill="#399a27"/>
<circle cx="445.8" cy="1463.14" r="2.85" fill="#399a27"/>
<circle cx="576.84" cy="1494.34" r="2.85" fill="#ff2b2b"/>
<circle cx="530.46" cy="1414.22" r="2.85" fill="#399a27"/>
<circle cx="832.16" cy="1536.9" r="2.85" fill="#c9b12f"/>
<circle cx="382.03" cy="1392.53" r="2.85" fill="#399a27"/>
<circle cx="735.62" cy="1512.55" r="2.85" fill="#399a27"/>
<circle cx="468.84" cy="1447.91" r="2.85" fill="#399a27"/>
<circle cx="636.85" cy="1500.31" r="2.85" fill="#399a27"/>
<circle cx="822.77" cy="1433.05" r="2.85" fill="#c9b12f"/>
<circle cx="572.58" cy="1497.15" r="2.85" fill="#ff2b2b"/>
<circle cx="835.48" cy="1434.36" r="2.85" fill="#c9b12f"/>
<circle cx="359.35" cy="1354.07" r="2.85" fill="#399a27"/>
<circle cx="748.77" cy="1507.98" r="2.85" fill="#399a27"/>
<circle cx="390.66" cy="1426.8" r="2.85" fill="#399a27"/>
<circle cx="473.49" cy="1489.51" r="2.85" fill="#c9b12f"/>
<circle cx="382.59" cy="1489.68" r="2.85" fill="#399a27"/>
<circle cx="845.76" cy="1450.99" r="2.85" fill="#399a27"/>
<circle cx="873.19" cy="1481.53" r="2.85" fill="#c9b12f"/>
<circle cx="550.04" cy="1500.61" r="2.85" fill="#c9b12f"/>
<circle cx="618.24" cy="1448.23" r="2.85" fill="#c9b12f"/>
<circle cx="385.36" cy="1428.09" r="2.85" fill="#399a27"/>
<circle cx="850.26" cy="1415.17" r="2.85" fill="#ff2b2b"/>
<circle cx="387.5" cy="1469.29" r="2.85" fill="#c9b12f"/>
<circle cx="521.7" cy="1428.22" r="2.85" fill="#ff2b2b"/>
<circle cx="577.39" cy="1501.38" r="2.85" fill="#ff2b2b"/>
<circle cx="868.63" cy="1425.71" r="2.85" fill="#399a27"/>
<circle cx="498.62" cy="1420.47" r="2.85" fill="#399a27"/>
<circle cx="596.87" cy="1446.91" r="2.85" fill="#ff2b2b"/>
<circle cx="347.83" cy="1430.88" r="2.85" fill="#399a27"/>
<circle cx="869.48" cy="1463.61" r="2.85" fill="#ff2b2b"/>
<circle cx="389.06" cy="1472.7" r="2.85" fill="#c9b12f"/>
<circle cx="389.49" cy="1324.83" r="2.85" fill="#c9b12f"/>
<circle cx="765.89" cy="1486.76" r="2.85" fill="#ff2b2b"/>
<circle cx="596.05" cy="1534.78" r="2.85" fill="#ff2b2b"/>
<circle cx="613.44" cy="1511.83" r="2.85" fill="#c9b12f"/>
<circle cx="583.47" cy="1440.61" r="2.85" fill="#399a27"/>
<circle cx="372.49" cy="1308.98" r="2.85" fill="#399a27"/>
<circle cx="850.55" cy="1391.28" r="2.85" fill="#399a27"/>
<circle cx="357.26" cy="1334.01" r="2.85" fill="#399a27"/>
<circle cx="490.02" cy="1461.82" r="2.85" fill="#399a27"/>
<circle cx="456.39" cy="1379.47" r="2.85" fill="#ff2b2b"/>
<circle cx="540.92" cy="1509.86" r="2.85" fill="#399a27"/>
<circle cx="654.9" cy="1457.44" r="2.85" fill="#c9b12f"/>
<circle cx="771.59" cy="1471.7" r="2.85" fill="#399a27"/>
<circle cx="437.91" cy="1404.77" r="2.85" fill="#399a27"/>
<circle cx="510.76" cy="1386.09" r="2.85" fill="#ff2b2b"/>
<circle cx="387.98" cy="1467.29" r="2.85" fill="#399a27"/>
<circle cx="944.48" cy="1528.11" r="2.85" fill="#399a27"/>
<circle cx="540.71" cy="1394.03" r="2.85" fill="#399a27"/>
<circle cx="403.54" cy="1412.8" r="2.85" fill="#ff2b2b"/>
<circle cx="341.24" cy="1474.35" r="2.85" fill="#399a27"/>
<circle cx="866.23" cy="1474.96" r="2.85" fill="#399a27"/>
<circle cx="531.9" cy="1439.13" r="2.85" fill="#ff2b2b"/>
<circle cx="504.05" cy="1489.19" r="2.85" fill="#399a27"/>
<circle cx="884.53" cy="1403.68" r="2.85" fill="#399a27"/>
<circle cx="452.97" cy="1507.03" r="2.85" fill="#ff2b2b"/>
<circle cx="393.1" cy="1331.17" r="2.85" fill="#399a27"/>
<circle cx="604.36" cy="1529.78" r="2.85" fill="#399a27"/>
<circle cx="590.43" cy="1469.01" r="2.85" fill="#399a27"/>
<circle cx="345.37" cy="1386.65" r="2.85" fill="#399a27"/>
<circle cx="403.89" cy="1424.12" r="2.85" fill="#c9b12f"/>
<circle cx="568.16" cy="1423.08" r="2.85" fill="#ff2b2b"/>
<circle cx="751.29" cy="1477.89" r="2.85" fill="#399a27"/>
<circle cx="573.92" cy="1424.58" r="2.85" fill="#c9b12f"/>
<circle cx="706.75" cy="1531.56" r="2.85" fill="#c9b12f"/>
<circle cx="414.81" cy="1382.04" r="2.85" fill="#c9b12f"/>
<circle cx="493.65" cy="1506.61" r="2.85" fill="#399a27"/>
<circle cx="698.42" cy="1463.67" r="2.85" fill="#399a27"/>
<circle cx="869.15" cy="1406.27" r="2.85" fill="#399a27"/>
<circle cx="428.37" cy="1450.39" r="2.85" fill="#399a27"/>
<circle cx="679.69" cy="1503.61" r="2.85" fill="#399a27"/>
<circle cx="761.02" cy="1516.8" r="2.85" fill="#399a27"/>
<circle cx="546.9" cy="1496.88" r="2.85" fill="#c9b12f"/>
<circle cx="834.51" cy="1482.65" r="2.85" fill="#399a27"/>
<circle cx="416" cy="1429.79" r="2.85" fill="#399a27"/>
<circle cx="367.66" cy="1416.16" r="2.85" fill="#399a27"/>
<circle cx="537.3" cy="1416.92" r="2.85" fill="#399a27"/>
<circle cx="398.74" cy="1328.72" r="2.85" fill="#399a27"/>
<circle cx="967.3" cy="1509.8" r="2.85" fill="#399a27"/>
<circle cx="549.62" cy="1522.76" r="2.85" fill="#ff2b2b"/>
<circle cx="597.97" cy="1491.6" r="2.85" fill="#399a27"/>
<circle cx="353.76" cy="1368.08" r="2.85" fill="#399a27"/>
<circle cx="648.25" cy="1477.02" r="2.85" fill="#c9b12f"/>
<circle cx="648.15" cy="1527.92" r="2.85" fill="#c9b12f"/>
<circle cx="467.74" cy="1383.34" r="2.85" fill="#c9b12f"/>
<circle cx="366.35" cy="1467.79" r="2.85" fill="#399a27"/>
<circle cx="808.67" cy="1509.01" r="2.85" fill="#c9b12f"/>
<circle cx="629.92" cy="1465.25" r="2.85" fill="#399a27"/>
<circle cx="806.93" cy="1461.18" r="2.85" fill="#399a27"/>
<circle cx="485.74" cy="1524.48" r="2.85" fill="#ff2b2b"/>
<circle cx="517.65" cy="1379.48" r="2.85" fill="#c9b12f"/>
<circle cx="687.05" cy="1506.67" r="2.85" fill="#399a27"/>
<circle cx="391.14" cy="1477.84" r="2.85" fill="#399a27"/>
<circle cx="519.16" cy="1397.22" r="2.85" fill="#c9b12f"/>
<circle cx="991.82" cy="1526.17" r="2.85" fill="#ff2b2b"/>
<circle cx="666.43" cy="1501.71" r="2.85" fill="#ff2b2b"/>
<circle cx="853.03" cy="1476.07" r="2.85" fill="#399a27"/>
<circle cx="490.37" cy="1391.29" r="2.85" fill="#ff2b2b"/>
<circle cx="665.81" cy="1505.04" r="2.85" fill="#ff2b2b"/>
<circle cx="453.08" cy="1349.48" r="2.85" fill="#399a27"/>
<circle cx="381.38" cy="1427.97" r="2.85" fill="#399a27"/>
<circle cx="861" cy="1398.54" r="2.85" fill="#399a27"/>
<circle cx="361.23" cy="1442.01" r="2.85" fill="#399a27"/>
<circle cx="509.57" cy="1374.26" r="2.85" fill="#c9b12f"/>
<circle cx="447.46" cy="1376.11" r="2.85" fill="#ff2b2b"/>
<circle cx="373.78" cy="1373.65" r="2.85" fill="#399a27"/>
<circle cx="980.35" cy="1523.73" r="2.85" fill="#ff2b2b"/>
<circle cx="359.16" cy="1510.63" r="2.85" fill="#399a27"/>
<circle cx="595.08" cy="1472.29" r="2.85" fill="#399a27"/>
<circle cx="486.33" cy="1453.29" r="2.85" fill="#399a27"/>
<circle cx="575.79" cy="1535.99" r="2.85" fill="#ff2b2b"/>
<circle cx="359.46" cy="1449.82" r="2.85" fill="#399a27"/>
<circle cx="476.67" cy="1382.16" r="2.85" fill="#ff2b2b"/>
<circle cx="442.3" cy="1385.39" r="2.85" fill="#399a27"/>
<circle cx="538.8" cy="1537.35" r="2.85" fill="#ff2b2b"/>
<circle cx="908.44" cy="1463.38" r="2.85" fill="#399a27"/>
<circle cx="516.1" cy="1394.66" r="2.85" fill="#399a27"/>
<circle cx="573.85" cy="1530.16" r="2.85" fill="#399a27"/>
<circle cx="938.02" cy="1492.31" r="2.85" fill="#399a27"/>
<circle cx="388.47" cy="1369.43" r="2.85" fill="#c9b12f"/>
<circle cx="679.37" cy="1489.56" r="2.85" fill="#399a27"/>
<circle cx="360.23" cy="1435.78" r="2.85" fill="#399a27"/>
<circle cx="541.29" cy="1467.36" r="2.85" fill="#399a27"/>
<circle cx="431.18" cy="1393.11" r="2.85" fill="#ff2b2b"/>
<circle cx="603.34" cy="1523.75" r="2.85" fill="#399a27"/>
<circle cx="527.81" cy="1407.71" r="2.85" fill="#399a27"/>
<circle cx="349.36" cy="1434.75" r="2.85" fill="#c9b12f"/>
<circle cx="477.21" cy="1474.61" r="2.85" fill="#c9b12f"/>
<circle cx="912.21" cy="1496.17" r="2.85" fill="#399a27"/>
<circle cx="373.09" cy="1364.26" r="2.85" fill="#399a27"/>
<circle cx="519.64" cy="1434.93" r="2.85" fill="#399a27"/>
<circle cx="444.2" cy="1390.88" r="2.85" fill="#399a27"/>
<circle cx="561" cy="1419.45" r="2.85" fill="#ff2b2b"/>
<circle cx="800.02" cy="1486.17" r="2.85" fill="#399a27"/>
<circle cx="374.98" cy="1293.46" r="2.85" fill="#399a27"/>
<circle cx="550.13" cy="1393.14" r="2.85" fill="#399a27"/>
<circle cx="507.69" cy="1390.89" r="2.85" fill="#399a27"/>
<circle cx="939.71" cy="1481.83" r="2.85" fill="#ff2b2b"/>
<circle cx="538.84" cy="1534.77" r="2.85" fill="#399a27"/>
<circle cx="461.37" cy="1477.03" r="2.85" fill="#399a27"/>
<circle cx="333.62" cy="1417.22" r="2.85" fill="#399a27"/>
<circle cx="439.37" cy="1438.46" r="2.85" fill="#ff2b2b"/>
<circle cx="579.47" cy="1506.82" r="2.85" fill="#ff2b2b"/>
<circle cx="491.1" cy="1411.04" r="2.85" fill="#399a27"/>
<circle cx="675.67" cy="1462.34" r="2.85" fill="#399a27"/>
<circle cx="401.19" cy="1328.77" r="2.85" fill="#399a27"/>
<circle cx="913.18" cy="1453.95" r="2.85" fill="#ff2b2b"/>
<circle cx="416.52" cy="1466.4" r="2.85" fill="#399a27"/>
<circle cx="456.16" cy="1458.79" r="2.85" fill="#c9b12f"/>
<circle cx="365.48" cy="1311.74" r="2.85" fill="#399a27"/>
<circle cx="553.15" cy="1471.45" r="2.85" fill="#399a27"/>
<circle cx="582.08" cy="1513.68" r="2.85" fill="#c9b12f"/>
<circle cx="522.25" cy="1472.98" r="2.85" fill="#ff2b2b"/>
<circle cx="866.71" cy="1402.09" r="2.85" fill="#399a27"/>
<circle cx="658.67" cy="1481.43" r="2.85" fill="#399a27"/>
<circle cx="710.47" cy="1510.43" r="2.85" fill="#399a27"/>
<circle cx="484.79" cy="1417.75" r="2.85" fill="#399a27"/>
<circle cx="367.17" cy="1510.72" r="2.85" fill="#399a27"/>
<circle cx="385.31" cy="1407.62" r="2.85" fill="#ff2b2b"/>
<circle cx="371.45" cy="1449.52" r="2.85" fill="#399a27"/>
<circle cx="816.55" cy="1432.6" r="2.85" fill="#399a27"/>
<circle cx="412.22" cy="1395.54" r="2.85" fill="#c9b12f"/>
<circle cx="539.78" cy="1383.04" r="2.85" fill="#399a27"/>
<circle cx="972.83" cy="1522.51" r="2.85" fill="#ff2b2b"/>
<circle cx="939.73" cy="1510.71" r="2.85" fill="#399a27"/>
<circle cx="592.06" cy="1498.29" r="2.85" fill="#ff2b2b"/>
<circle cx="569.15" cy="1525.73" r="2.85" fill="#399a27"/>
<circle cx="395.8" cy="1475.66" r="2.85" fill="#399a27"/>
<circle cx="403.58" cy="1386.84" r="2.85" fill="#399a27"/>
<circle cx="339.3" cy="1409.62" r="2.85" fill="#399a27"/>
<circle cx="479.49" cy="1482.23" r="2.85" fill="#399a27"/>
<circle cx="455.36" cy="1536.38" r="2.85" fill="#399a27"/>
<circle cx="762.47" cy="1513.16" r="2.85" fill="#c9b12f"/>
<circle cx="409.13" cy="1468.13" r="2.85" fill="#399a27"/>
<circle cx="589.56" cy="1491.02" r="2.85" fill="#ff2b2b"/>
<circle cx="676.66" cy="1508.2" r="2.85" fill="#399a27"/>
<circle cx="660.55" cy="1525.01" r="2.85" fill="#ff2b2b"/>
<circle cx="995.79" cy="1535.7" r="2.85" fill="#ff2b2b"/>
<circle cx="910.32" cy="1453.21" r="2.85" fill="#ff2b2b"/>
<circle cx="382.06" cy="1483.97" r="2.85" fill="#399a27"/>
<circle cx="864.44" cy="1433.76" r="2.85" fill="#399a27"/>
<circle cx="357.55" cy="1504.48" r="2.85" fill="#c9b12f"/>
<circle cx="411.31" cy="1401.49" r="2.85" fill="#c9b12f"/>
<circle cx="470.89" cy="1514.74" r="2.85" fill="#ff2b2b"/>
<circle cx="464.44" cy="1429.19" r="2.85" fill="#399a27"/>
<circle cx="559.5" cy="1486.08" r="2.85" fill="#399a27"/>
<circle cx="453.51" cy="1479.51" r="2.85" fill="#399a27"/>
<circle cx="419.11" cy="1525.74" r="2.85" fill="#399a27"/>
<circle cx="571.48" cy="1537.72" r="2.85" fill="#ff2b2b"/>
<circle cx="539.95" cy="1404.48" r="2.85" fill="#ff2b2b"/>
<circle cx="489.78" cy="1403.2" r="2.85" fill="#c9b12f"/>
<circle cx="632.09" cy="1484.26" r="2.85" fill="#399a27"/>
<circle cx="607.49" cy="1527.25" r="2.85" fill="#399a27"/>
<circle cx="613.57" cy="1519.99" r="2.85" fill="#c9b12f"/>
<circle cx="399.32" cy="1320.89" r="2.85" fill="#399a27"/>
<circle cx="348.5" cy="1412.51" r="2.85" fill="#399a27"/>
<circle cx="643.05" cy="1509.17" r="2.85" fill="#ff2b2b"/>
<circle cx="377.39" cy="1383.69" r="2.85" fill="#399a27"/>
<circle cx="472.69" cy="1374.18" r="2.85" fill="#399a27"/>
<circle cx="827.78" cy="1432.63" r="2.85" fill="#ff2b2b"/>
<circle cx="412.83" cy="1319.79" r="2.85" fill="#c9b12f"/>
<circle cx="349.13" cy="1427.77" r="2.85" fill="#399a27"/>
<circle cx="407.19" cy="1378.53" r="2.85" fill="#399a27"/>
<circle cx="416.1" cy="1348.45" r="2.85" fill="#399a27"/>
<circle cx="674.64" cy="1520.3" r="2.85" fill="#399a27"/>
<circle cx="609.09" cy="1455.86" r="2.85" fill="#399a27"/>
<circle cx="900.44" cy="1518.12" r="2.85" fill="#399a27"/>
<circle cx="608.72" cy="1448.92" r="2.85" fill="#ff2b2b"/>
<circle cx="437.42" cy="1346.7" r="2.85" fill="#399a27"/>
<circle cx="363.73" cy="1302.31" r="2.85" fill="#399a27"/>
<circle cx="552.3" cy="1487.53" r="2.85" fill="#c9b12f"/>
<circle cx="596.1" cy="1508.64" r="2.85" fill="#399a27"/>
<circle cx="578.36" cy="1472.16" r="2.85" fill="#399a27"/>
<circle cx="366.06" cy="1296.93" r="2.85" fill="#399a27"/>
<circle cx="481.52" cy="1418.55" r="2.85" fill="#399a27"/>
<circle cx="655.84" cy="1517.12" r="2.85" fill="#399a27"/>
<circle cx="338.98" cy="1531.16" r="2.85" fill="#399a27"/>
<circle cx="579.05" cy="1489.12" r="2.85" fill="#ff2b2b"/>
<circle cx="543.19" cy="1463.76" r="2.85" fill="#ff2b2b"/>
<circle cx="368.38" cy="1345.22" r="2.85" fill="#399a27"/>
<circle cx="887.64" cy="1433.64" r="2.85" fill="#ff2b2b"/>
<circle cx="370.85" cy="1291.9" r="2.85" fill="#399a27"/>
<circle cx="759" cy="1534.1" r="2.85" fill="#ff2b2b"/>
<circle cx="719.75" cy="1519.31" r="2.85" fill="#399a27"/>
<circle cx="944.47" cy="1525.45" r="2.85" fill="#399a27"/>
<circle cx="411.69" cy="1479.11" r="2.85" fill="#399a27"/>
<circle cx="410.28" cy="1463.25" r="2.85" fill="#399a27"/>
<circle cx="408.53" cy="1381.59" r="2.85" fill="#ff2b2b"/>
<circle cx="473.84" cy="1449.58" r="2.85" fill="#c9b12f"/>
<circle cx="648.09" cy="1488.89" r="2.85" fill="#399a27"/>
<circle cx="403.18" cy="1343.54" r="2.85" fill="#399a27"/>
<circle cx="467.82" cy="1378.04" r="2.85" fill="#399a27"/>
<circle cx="716.51" cy="1469.81" r="2.85" fill="#c9b12f"/>
<circle cx="657.7" cy="1517.54" r="2.85" fill="#399a27"/>
<circle cx="356.39" cy="1430.59" r="2.85" fill="#399a27"/>
<circle cx="555.13" cy="1531.28" r="2.85" fill="#ff2b2b"/>
<circle cx="870.44" cy="1502.8" r="2.85" fill="#399a27"/>
<circle cx="465.91" cy="1463.55" r="2.85" fill="#399a27"/>
<circle cx="499.22" cy="1452.5" r="2.85" fill="#399a27"/>
<circle cx="528.46" cy="1394.14" r="2.85" fill="#399a27"/>
<circle cx="514.84" cy="1410.81" r="2.85" fill="#ff2b2b"/>
<circle cx="915.83" cy="1523.18" r="2.85" fill="#c9b12f"/>
<circle cx="850.07" cy="1390.46" r="2.85" fill="#c9b12f"/>
<circle cx="488.7" cy="1419.2" r="2.85" fill="#ff2b2b"/>
<circle cx="771.32" cy="1531.78" r="2.85" fill="#399a27"/>
<circle cx="710.14" cy="1537.56" r="2.85" fill="#399a27"/>
<circle cx="914.7" cy="1501.55" r="2.85" fill="#399a27"/>
<circle cx="352.79" cy="1534.2" r="2.85" fill="#c9b12f"/>
<circle cx="680.63" cy="1500.38" r="2.85" fill="#399a27"/>
<circle cx="665.83" cy="1513.99" r="2.85" fill="#399a27"/>
<circle cx="657.09" cy="1494.98" r="2.85" fill="#ff2b2b"/>
<circle cx="422.97" cy="1398.71" r="2.85" fill="#ff2b2b"/>
<circle cx="346.46" cy="1442.99" r="2.85" fill="#c9b12f"/>
<circle cx="955.48" cy="1515.37" r="2.85" fill="#c9b12f"/>
<circle cx="354.24" cy="1506.09" r="2.85" fill="#ff2b2b"/>
<circle cx="349.05" cy="1497.84" r="2.85" fill="#c9b12f"/>
<circle cx="333.45" cy="1497.35" r="2.85" fill="#ff2b2b"/>
<circle cx="556.81" cy="1397.1" r="2.85" fill="#ff2b2b"/>
<circle cx="1115.4" cy="1529.4" r="2.85" fill="#399a27"/>
<circle cx="1077.31" cy="1529.02" r="2.85" fill="#399a27"/>
<circle cx="1344.81" cy="1532.44" r="2.85" fill="#ff2b2b"/>
<circle cx="1114.51" cy="1524.36" r="2.85" fill="#c9b12f"/>
<circle cx="1081.19" cy="1529.26" r="2.85" fill="#399a27"/>
<circle cx="1107.56" cy="1528.07" r="2.85" fill="#c9b12f"/>
<circle cx="1163.12" cy="1536.41" r="2.85" fill="#c9b12f"/>
<circle cx="1170.35" cy="1533.77" r="2.85" fill="#ff2b2b"/>
<circle cx="1148.79" cy="1524.53" r="2.85" fill="#399a27"/>
<circle cx="1006.09" cy="1526.97" r="2.85" fill="#399a27"/>
<circle cx="1402.39" cy="1533.93" r="2.85" fill="#c9b12f"/>
<circle cx="1416.06" cy="1534.44" r="2.85" fill="#ff2b2b"/>
<circle cx="1163.82" cy="1522.14" r="2.85" fill="#c9b12f"/>
<circle cx="1031.53" cy="1530.68" r="2.85" fill="#399a27"/>
<circle cx="1135.06" cy="1519.56" r="2.85" fill="#ff2b2b"/>
<circle cx="1237.74" cy="1534.8" r="2.85" fill="#ff2b2b"/>
<circle cx="1416.74" cy="1534.9" r="2.85" fill="#399a27"/>
<circle cx="1136.14" cy="1536.76" r="2.85" fill="#ff2b2b"/>
<circle cx="1070.55" cy="1533.32" r="2.85" fill="#399a27"/>
<circle cx="1202.29" cy="1535.41" r="2.85" fill="#399a27"/>
<circle cx="1430.28" cy="1537.8" r="2.85" fill="#399a27"/>
<circle cx="1022.83" cy="1527.41" r="2.85" fill="#ff2b2b"/>
<circle cx="335.36" cy="1337.43" r="2.85" fill="#399a27"/>
<circle cx="343.29" cy="1425.25" r="2.85" fill="#399a27"/>
<circle cx="338.78" cy="1363.1" r="2.85" fill="#399a27"/>
<circle cx="336.61" cy="1338.54" r="2.85" fill="#399a27"/>
<circle cx="340.85" cy="1399.74" r="2.85" fill="#399a27"/>
<circle cx="340.92" cy="1388.12" r="2.85" fill="#399a27"/>
<circle cx="344.43" cy="1442.61" r="2.85" fill="#399a27"/>
<circle cx="339.79" cy="1421.22" r="2.85" fill="#399a27"/>
<circle cx="344.84" cy="1362.44" r="2.85" fill="#ff2b2b"/>
<circle cx="344.02" cy="1511.54" r="2.85" fill="#399a27"/>
<circle cx="339.37" cy="1535.06" r="2.85" fill="#399a27"/>
<circle cx="334.81" cy="1482.14" r="2.85" fill="#399a27"/>
<circle cx="340.38" cy="1354.2" r="2.85" fill="#ff2b2b"/>
<circle cx="336.33" cy="1350.78" r="2.85" fill="#c9b12f"/>
<circle cx="337.19" cy="1445.81" r="2.85" fill="#399a27"/>
<circle cx="344.95" cy="1426.77" r="2.85" fill="#399a27"/>
<circle cx="332.52" cy="1439.39" r="2.85" fill="#399a27"/>
<circle cx="340.25" cy="1458.03" r="2.85" fill="#399a27"/>
<circle cx="333.71" cy="1437.8" r="2.85" fill="#399a27"/>
<circle cx="341.16" cy="1531.81" r="2.85" fill="#399a27"/>
<circle cx="874.13" cy="1505.61" r="2.85" fill="#399a27"/>
<circle cx="875.33" cy="1510.46" r="2.85" fill="#ff2b2b"/>
<circle cx="874.86" cy="1457.24" r="2.85" fill="#399a27"/>
<circle cx="879.75" cy="1466.81" r="2.85" fill="#c9b12f"/>
<circle cx="872.48" cy="1421.78" r="2.85" fill="#c9b12f"/>
<circle cx="875.16" cy="1457.14" r="2.85" fill="#399a27"/>
<circle cx="875.51" cy="1511.31" r="2.85" fill="#ff2b2b"/>
<circle cx="876.45" cy="1534.93" r="2.85" fill="#c9b12f"/>
<circle cx="873.44" cy="1491.08" r="2.85" fill="#ff2b2b"/>
<circle cx="871.39" cy="1505.68" r="2.85" fill="#399a27"/>
<circle cx="875.74" cy="1414.99" r="2.85" fill="#c9b12f"/>
<circle cx="873.28" cy="1377.98" r="2.85" fill="#ff2b2b"/>
<circle cx="872.85" cy="1474.41" r="2.85" fill="#c9b12f"/>
<circle cx="878.25" cy="1527.47" r="2.85" fill="#ff2b2b"/>
<circle cx="878" cy="1394.05" r="2.85" fill="#c9b12f"/>
<circle cx="876.29" cy="1517.43" r="2.85" fill="#399a27"/>
<circle cx="876.33" cy="1498.98" r="2.85" fill="#c9b12f"/>
<circle cx="878.12" cy="1477.3" r="2.85" fill="#399a27"/>
<circle cx="874.89" cy="1516.76" r="2.85" fill="#ff2b2b"/>
<circle cx="874.24" cy="1503.23" r="2.85" fill="#c9b12f"/>
<circle cx="870.22" cy="1478.89" r="2.85" fill="#399a27"/>
<circle cx="872.78" cy="1437.26" r="2.85" fill="#399a27"/>
<path d="M747,1540.4 L747,1534 L749,1533.67 L751,1533.49 L753,1533.27 L755,1533.04 L757,1532.79 L759,1532.55 L761,1532.31 L763,1532.07 L765,1531.83 L767,1531.59 L769,1531.34 L771,1531.1 L773,1530.86 L775,1530.61 L777,1530.37 L779,1530.12 L781,1529.87 L783,1529.62 L785,1529.36 L787,1529.1 L789,1528.83 L791,1528.57 L793,1528.3 L795,1528.03 L797,1527.76 L799,1527.5 L801,1527.23 L803,1526.97 L805,1526.71 L807,1526.46 L809,1526.21 L811,1525.97 L813,1525.73 L815,1525.51 L817,1525.3 L819,1525.11 L821,1524.93 L823,1524.77 L825,1524.63 L827,1524.51 L829,1524.42 L831,1524.36 L833,1524.32 L835,1524.31 L837,1524.32 L839,1524.34 L841,1524.36 L843,1524.39 L845,1524.42 L847,1524.45 L849,1524.5 L851,1524.54 L853,1524.6 L855,1524.66 L857,1524.73 L859,1524.8 L861,1524.87 L863,1524.94 L865,1525.02 L867,1525.1 L869,1525.17 L871,1525.25 L873,1525.33 L875,1525.41 L877,1525.49 L879,1525.56 L881,1525.63 L883,1525.7 L885,1525.76 L887,1525.83 L889,1525.89 L891,1525.97 L893,1526.05 L895,1526.14 L897,1526.24 L899,1526.35 L901,1526.46 L903,1526.58 L905,1526.71 L907,1526.83 L909,1526.97 L911,1527.1 L913,1527.23 L915,1527.37 L917,1527.51 L919,1527.64 L921,1527.78 L923,1527.91 L925,1528.05 L927,1528.18 L929,1528.31 L931,1528.44 L933,1528.57 L935,1528.7 L937,1528.82 L939,1528.94 L941,1529.06 L943,1529.17 L945,1529.28 L947,1529.39 L949,1529.5 L951,1529.61 L953,1529.71 L955,1529.82 L957,1529.92 L959,1530.02 L961,1530.12 L963,1530.22 L965,1530.32 L967,1530.42 L969,1530.51 L971,1530.61 L973,1530.7 L975,1530.79 L977,1530.87 L979,1530.96 L981,1531.04 L983,1531.13 L985,1531.22 L987,1531.31 L989,1531.38 L991,1531.44 L993,1531.47 L995,1531.47 L997,1531.45 L999,1531.41 L1001,1531.37 L1003,1531.31 L1005,1531.24 L1007,1531.17 L1009,1531.09 L1011,1531 L1013,1530.92 L1015,1530.83 L1017,1530.73 L1019,1530.64 L1021,1530.54 L1023,1530.44 L1025,1530.34 L1027,1530.24 L1029,1530.14 L1031,1530.04 L1033,1529.94 L1035,1529.84 L1037,1529.75 L1039,1529.65 L1041,1529.55 L1043,1529.45 L1045,1529.35 L1047,1529.24 L1049,1529.13 L1051,1529.02 L1053,1528.91 L1055,1528.79 L1057,1528.68 L1059,1528.57 L1061,1528.46 L1063,1528.35 L1065,1528.24 L1067,1528.14 L1069,1528.04 L1071,1527.95 L1073,1527.86 L1075,1527.78 L1077,1527.71 L1079,1527.64 L1081,1527.58 L1083,1527.52 L1085,1527.48 L1087,1527.44 L1089,1527.4 L1091,1527.37 L1093,1527.35 L1095,1527.33 L1097,1527.31 L1099,1527.3 L1101,1527.28 L1103,1527.27 L1105,1527.27 L1107,1527.26 L1109,1527.25 L1111,1527.24 L1113,1527.24 L1115,1527.23 L1117,1527.22 L1119,1527.21 L1121,1527.2 L1123,1527.19 L1125,1527.18 L1127,1527.18 L1129,1527.18 L1131,1527.18 L1133,1527.18 L1135,1527.19 L1137,1527.19 L1139,1527.2 L1141,1527.2 L1143,1527.2 L1145,1527.2 L1147,1527.19 L1149,1527.18 L1151,1527.17 L1153,1527.15 L1155,1527.12 L1157,1527.08 L1159,1527.02 L1161,1526.95 L1163,1526.86 L1165,1526.76 L1167,1526.63 L1169,1526.47 L1171,1526.28 L1173,1526.05 L1175,1525.78 L1177,1525.48 L1179,1525.15 L1181,1524.8 L1183,1524.42 L1185,1524.02 L1187,1523.58 L1189,1523.12 L1191,1522.64 L1193,1522.14 L1195,1521.61 L1197,1521.06 L1199,1520.46 L1201,1519.81 L1203,1519.06 L1205,1518.2 L1207,1517.23 L1209,1516.22 L1211,1515.2 L1213,1514.18 L1215,1513.15 L1217,1512.1 L1219,1511.04 L1221,1509.95 L1223,1508.85 L1225,1507.73 L1227,1506.6 L1229,1505.46 L1231,1504.3 L1233,1503.11 L1235,1501.89 L1237,1500.61 L1239,1499.28 L1241,1497.89 L1243,1496.46 L1245,1494.98 L1247,1493.45 L1249,1491.87 L1251,1490.22 L1253,1488.49 L1255,1486.68 L1257,1484.81 L1259,1482.87 L1261,1480.87 L1263,1478.79 L1265,1476.62 L1267,1474.34 L1269,1471.93 L1271,1469.38 L1273,1466.69 L1275,1463.86 L1277,1460.89 L1279,1457.8 L1281,1454.58 L1283,1451.24 L1285,1447.77 L1287,1444.17 L1289,1440.45 L1291,1436.6 L1293,1432.63 L1295,1428.53 L1297,1424.32 L1299,1420 L1301,1415.58 L1303,1411.07 L1305,1406.48 L1307,1401.82 L1309,1397.08 L1311,1392.23 L1313,1387.27 L1315,1382.16 L1317,1376.86 L1319,1371.36 L1321,1365.62 L1323,1359.62 L1325,1353.4 L1327,1346.96 L1329,1340.35 L1331,1333.6 L1333,1326.71 L1335,1319.63 L1337,1312.32 L1339,1304.74 L1341,1296.95 L1343,1289.05 L1345,1281.07 L1347,1273.03 L1349,1264.96 L1351,1256.94 L1353,1249.05 L1355,1241.34 L1357,1233.81 L1359,1226.41 L1361,1219.05 L1363,1211.65 L1365,1204.15 L1367,1196.5 L1369,1188.7 L1371,1180.78 L1373,1172.82 L1375,1164.86 L1377,1156.91 L1379,1148.9 L1381,1140.74 L1383,1132.33 L1385,1123.64 L1387,1114.75 L1389,1105.79 L1391,1096.87 L1393,1088.03 L1395,1079.13 L1397,1069.98 L1399,1060.44 L1401,1050.6 L1403,1040.84 L1405,1031.57 L1407,1022.96 L1409,1014.8 L1411,1006.7 L1413,998.35 L1415,989.79 L1417,981.31 L1419,973.2 L1421,965.55 L1423,958.36 L1425,951.74 L1427,945.79 L1429,940.58 L1431,936.17 L1433,932.54 L1435,929.61 L1437,927.25 L1439,925.4 L1441,924.07 L1443,923.27 L1445,923.02 L1447,923.32 L1449,924.17 L1451,925.62 L1453,927.79 L1455,930.74 L1457,934.5 L1459,939.13 L1461,944.75 L1463,951.42 L1465,958.98 L1467,967.06 L1469,975.36 L1471,983.81 L1473,992.64 L1475,1002.39 L1477,1013.55 L1479,1025.88 L1481,1038.47 L1483,1050.73 L1485,1062.76 L1487,1075.06 L1489,1088.14 L1491,1102.29 L1493,1117.48 L1495,1133.53 L1497,1150.17 L1499,1166.98 L1501,1183.41 L1503,1199.14 L1505,1214.08 L1507,1228.2 L1509,1241.53 L1511,1254.19 L1513,1266.4 L1515,1278.36 L1517,1290.22 L1519,1302.08 L1521,1313.82 L1523,1325.32 L1525,1336.59 L1527,1347.75 L1529,1358.86 L1531,1369.91 L1533,1380.78 L1535,1391.41 L1537,1401.72 L1539,1411.65 L1541,1421.14 L1543,1430.19 L1545,1438.8 L1547,1446.89 L1549,1454.38 L1551,1461.27 L1553,1467.59 L1555,1473.41 L1557,1478.78 L1559,1483.71 L1561,1488.24 L1563,1492.39 L1565,1496.23 L1567,1499.81 L1569,1503.16 L1571,1506.28 L1573,1509.17 L1575,1511.85 L1577,1514.33 L1579,1516.65 L1581,1518.83 L1583,1520.85 L1585,1522.67 L1587,1524.31 L1589,1525.81 L1591,1527.16 L1593,1528.27 L1595,1529.05 L1596,1530.3 L1596,1540.4 Z" fill="rgba(216,234,251,0.8)" stroke="#505050" stroke-width="1.1"/>
<circle cx="1346.96" cy="1448.44" r="2.85" fill="#ff2b2b"/>
<circle cx="1428.06" cy="1510.11" r="2.85" fill="#ff2b2b"/>
<circle cx="1463.79" cy="1152.65" r="2.85" fill="#399a27"/>
<circle cx="1454.24" cy="1185.07" r="2.85" fill="#399a27"/>
<circle cx="1461.35" cy="1205.54" r="2.85" fill="#ff2b2b"/>
<circle cx="1421.79" cy="1276.78" r="2.85" fill="#c9b12f"/>
<circle cx="1326.25" cy="1382.48" r="2.85" fill="#ff2b2b"/>
<circle cx="1411.91" cy="1046.07" r="2.85" fill="#c9b12f"/>
<circle cx="1386.47" cy="1367.01" r="2.85" fill="#399a27"/>
<circle cx="1478.56" cy="1183.69" r="2.85" fill="#399a27"/>
<circle cx="1395.97" cy="1268.29" r="2.85" fill="#399a27"/>
<circle cx="1410.93" cy="1428.64" r="2.85" fill="#ff2b2b"/>
<circle cx="1454.84" cy="1338.88" r="2.85" fill="#399a27"/>
<circle cx="1475.97" cy="1386.95" r="2.85" fill="#399a27"/>
<circle cx="1485.57" cy="1497.68" r="2.85" fill="#399a27"/>
<circle cx="1376.13" cy="1385.79" r="2.85" fill="#ff2b2b"/>
<circle cx="1455.24" cy="1277.94" r="2.85" fill="#ff2b2b"/>
<circle cx="1483.81" cy="1516.19" r="2.85" fill="#399a27"/>
<circle cx="1321.24" cy="1420.86" r="2.85" fill="#ff2b2b"/>
<circle cx="1443.49" cy="1037.16" r="2.85" fill="#399a27"/>
<circle cx="1276.77" cy="1525.42" r="2.85" fill="#c9b12f"/>
<circle cx="1404.9" cy="1274.91" r="2.85" fill="#399a27"/>
<circle cx="1480.91" cy="1153.64" r="2.85" fill="#ff2b2b"/>
<circle cx="1430.74" cy="1044.41" r="2.85" fill="#c9b12f"/>
<circle cx="1400.59" cy="1233.07" r="2.85" fill="#399a27"/>
<circle cx="1292.99" cy="1507.89" r="2.85" fill="#399a27"/>
<circle cx="1479.3" cy="1468.84" r="2.85" fill="#399a27"/>
<circle cx="1414.81" cy="1008.14" r="2.85" fill="#399a27"/>
<circle cx="1431.9" cy="984.48" r="2.85" fill="#ff2b2b"/>
<circle cx="1447.54" cy="1393.58" r="2.85" fill="#ff2b2b"/>
<circle cx="1232.1" cy="1515.59" r="2.85" fill="#ff2b2b"/>
<circle cx="1460.47" cy="1008.43" r="2.85" fill="#399a27"/>
<circle cx="1320.84" cy="1377.29" r="2.85" fill="#ff2b2b"/>
<circle cx="1369.56" cy="1412.01" r="2.85" fill="#ff2b2b"/>
<circle cx="1444.73" cy="1272" r="2.85" fill="#399a27"/>
<circle cx="1366.55" cy="1443.01" r="2.85" fill="#399a27"/>
<circle cx="1432.26" cy="978.8" r="2.85" fill="#399a27"/>
<circle cx="1430.3" cy="1240.92" r="2.85" fill="#399a27"/>
<circle cx="1297.23" cy="1523.64" r="2.85" fill="#399a27"/>
<circle cx="1295.67" cy="1519.92" r="2.85" fill="#399a27"/>
<circle cx="1437.33" cy="1170.8" r="2.85" fill="#c9b12f"/>
<circle cx="1325.87" cy="1534.71" r="2.85" fill="#ff2b2b"/>
<circle cx="1396.14" cy="1357.32" r="2.85" fill="#c9b12f"/>
<circle cx="1418.55" cy="1477.01" r="2.85" fill="#c9b12f"/>
<circle cx="1462.24" cy="1190.09" r="2.85" fill="#ff2b2b"/>
<circle cx="1480.8" cy="1223.94" r="2.85" fill="#ff2b2b"/>
<circle cx="1027.6" cy="1535.72" r="2.85" fill="#399a27"/>
<circle cx="1483.96" cy="1093.09" r="2.85" fill="#399a27"/>
<circle cx="1239.12" cy="1512.42" r="2.85" fill="#399a27"/>
<circle cx="1408.8" cy="1322.2" r="2.85" fill="#c9b12f"/>
<circle cx="1489.74" cy="1274.47" r="2.85" fill="#399a27"/>
<circle cx="1410.06" cy="1085.13" r="2.85" fill="#ff2b2b"/>
<circle cx="1314.39" cy="1489.94" r="2.85" fill="#399a27"/>
<circle cx="1336.15" cy="1329.03" r="2.85" fill="#ff2b2b"/>
<circle cx="1343.48" cy="1303.75" r="2.85" fill="#ff2b2b"/>
<circle cx="1431.81" cy="1324.98" r="2.85" fill="#399a27"/>
<circle cx="1436.5" cy="1307.28" r="2.85" fill="#399a27"/>
<circle cx="1346.44" cy="1410.64" r="2.85" fill="#399a27"/>
<circle cx="1395.45" cy="1334.16" r="2.85" fill="#399a27"/>
<circle cx="1468.78" cy="1342.01" r="2.85" fill="#399a27"/>
<circle cx="1380.54" cy="1398.94" r="2.85" fill="#399a27"/>
<circle cx="1404.38" cy="1275.9" r="2.85" fill="#399a27"/>
<circle cx="1212.13" cy="1528.41" r="2.85" fill="#ff2b2b"/>
<circle cx="1470.59" cy="1495.73" r="2.85" fill="#c9b12f"/>
<circle cx="1355.47" cy="1408.52" r="2.85" fill="#399a27"/>
<circle cx="1459.56" cy="1328.59" r="2.85" fill="#399a27"/>
<circle cx="1367.65" cy="1248.65" r="2.85" fill="#399a27"/>
<circle cx="1352.44" cy="1411" r="2.85" fill="#399a27"/>
<circle cx="1408.77" cy="1159.43" r="2.85" fill="#ff2b2b"/>
<circle cx="1197.18" cy="1538.25" r="2.85" fill="#c9b12f"/>
<circle cx="1420.04" cy="1241.75" r="2.85" fill="#399a27"/>
<circle cx="1376.26" cy="1283.51" r="2.85" fill="#399a27"/>
<circle cx="1434" cy="1513.82" r="2.85" fill="#c9b12f"/>
<circle cx="1418.49" cy="1265.08" r="2.85" fill="#399a27"/>
<circle cx="1425.77" cy="1232.09" r="2.85" fill="#399a27"/>
<circle cx="1453.88" cy="1274.51" r="2.85" fill="#399a27"/>
<circle cx="1408.35" cy="1138.72" r="2.85" fill="#c9b12f"/>
<circle cx="1302.02" cy="1530.6" r="2.85" fill="#ff2b2b"/>
<circle cx="1448.14" cy="1481.98" r="2.85" fill="#c9b12f"/>
<circle cx="1484.24" cy="1072.9" r="2.85" fill="#399a27"/>
<circle cx="1470.02" cy="1246.63" r="2.85" fill="#ff2b2b"/>
<circle cx="1455.03" cy="1442.76" r="2.85" fill="#c9b12f"/>
<circle cx="1263.68" cy="1531.14" r="2.85" fill="#ff2b2b"/>
<circle cx="1427.75" cy="1306.4" r="2.85" fill="#ff2b2b"/>
<circle cx="1461.77" cy="1532.57" r="2.85" fill="#399a27"/>
<circle cx="1484.63" cy="1195.81" r="2.85" fill="#ff2b2b"/>
<circle cx="1474.12" cy="1287.41" r="2.85" fill="#399a27"/>
<circle cx="1416.86" cy="1256.52" r="2.85" fill="#ff2b2b"/>
<circle cx="1308.73" cy="1420.86" r="2.85" fill="#ff2b2b"/>
<circle cx="1332.67" cy="1449.64" r="2.85" fill="#ff2b2b"/>
<circle cx="1435.01" cy="1432.22" r="2.85" fill="#399a27"/>
<circle cx="1158.99" cy="1537.18" r="2.85" fill="#399a27"/>
<circle cx="1410.66" cy="1274.03" r="2.85" fill="#399a27"/>
<circle cx="1437.76" cy="1002.65" r="2.85" fill="#c9b12f"/>
<circle cx="1458.89" cy="1082.93" r="2.85" fill="#399a27"/>
<circle cx="1455.82" cy="1434.56" r="2.85" fill="#ff2b2b"/>
<circle cx="1467.01" cy="1495.06" r="2.85" fill="#ff2b2b"/>
<circle cx="1427.02" cy="1124.62" r="2.85" fill="#c9b12f"/>
<circle cx="1344.71" cy="1426.61" r="2.85" fill="#ff2b2b"/>
<circle cx="1449.3" cy="932.44" r="2.85" fill="#399a27"/>
<circle cx="1368.71" cy="1299.64" r="2.85" fill="#399a27"/>
<circle cx="1397.34" cy="1449.44" r="2.85" fill="#399a27"/>
<circle cx="1428.49" cy="1437.38" r="2.85" fill="#ff2b2b"/>
<circle cx="1436.57" cy="1306.48" r="2.85" fill="#399a27"/>
<circle cx="1398.59" cy="1487.52" r="2.85" fill="#399a27"/>
<circle cx="1457.91" cy="1095.43" r="2.85" fill="#399a27"/>
<circle cx="1442.78" cy="1437.58" r="2.85" fill="#c9b12f"/>
<circle cx="1477.46" cy="1536.08" r="2.85" fill="#ff2b2b"/>
<circle cx="1468.94" cy="1073.38" r="2.85" fill="#399a27"/>
<circle cx="1487.75" cy="1474.49" r="2.85" fill="#399a27"/>
<circle cx="1398.84" cy="1321.03" r="2.85" fill="#399a27"/>
<circle cx="1458.28" cy="1104.41" r="2.85" fill="#ff2b2b"/>
<circle cx="1362.92" cy="1226.89" r="2.85" fill="#399a27"/>
<circle cx="1468.06" cy="1456.81" r="2.85" fill="#ff2b2b"/>
<circle cx="1427.26" cy="1091.65" r="2.85" fill="#399a27"/>
<circle cx="1450.39" cy="1426.34" r="2.85" fill="#c9b12f"/>
<circle cx="1435.21" cy="1126.13" r="2.85" fill="#399a27"/>
<circle cx="1453.64" cy="1380.61" r="2.85" fill="#399a27"/>
<circle cx="1465.18" cy="972.44" r="2.85" fill="#c9b12f"/>
<circle cx="1410.02" cy="1180.03" r="2.85" fill="#399a27"/>
<circle cx="1470.23" cy="1232.77" r="2.85" fill="#ff2b2b"/>
<circle cx="1470.87" cy="1142.39" r="2.85" fill="#c9b12f"/>
<circle cx="1447.19" cy="1430.96" r="2.85" fill="#c9b12f"/>
<circle cx="1401.44" cy="1195.5" r="2.85" fill="#ff2b2b"/>
<circle cx="1405.67" cy="1458.2" r="2.85" fill="#c9b12f"/>
<circle cx="1441.23" cy="1290.51" r="2.85" fill="#399a27"/>
<circle cx="1225.53" cy="1532.14" r="2.85" fill="#399a27"/>
<circle cx="1448.4" cy="1129.98" r="2.85" fill="#399a27"/>
<circle cx="1299.77" cy="1439.86" r="2.85" fill="#399a27"/>
<circle cx="1368.9" cy="1343.18" r="2.85" fill="#ff2b2b"/>
<circle cx="1444.82" cy="1538.39" r="2.85" fill="#ff2b2b"/>
<circle cx="1265.06" cy="1498.61" r="2.85" fill="#399a27"/>
<circle cx="1064.7" cy="1534.04" r="2.85" fill="#399a27"/>
<circle cx="1463.26" cy="1273.84" r="2.85" fill="#c9b12f"/>
<circle cx="1486.13" cy="1415.16" r="2.85" fill="#ff2b2b"/>
<circle cx="1467.85" cy="1198.57" r="2.85" fill="#ff2b2b"/>
<circle cx="1440.76" cy="1228.13" r="2.85" fill="#ff2b2b"/>
<circle cx="1456.32" cy="1243.51" r="2.85" fill="#399a27"/>
<circle cx="1456.18" cy="1212.22" r="2.85" fill="#c9b12f"/>
<circle cx="1426.04" cy="1003.74" r="2.85" fill="#c9b12f"/>
<circle cx="1404.81" cy="1052.25" r="2.85" fill="#c9b12f"/>
<circle cx="1461.85" cy="1376.88" r="2.85" fill="#ff2b2b"/>
<circle cx="1366.7" cy="1208.03" r="2.85" fill="#399a27"/>
<circle cx="1243.11" cy="1535.38" r="2.85" fill="#399a27"/>
<circle cx="1435.99" cy="1293.56" r="2.85" fill="#ff2b2b"/>
<circle cx="1363.15" cy="1352.84" r="2.85" fill="#399a27"/>
<circle cx="1442.5" cy="1049" r="2.85" fill="#399a27"/>
<circle cx="1281.89" cy="1525.74" r="2.85" fill="#399a27"/>
<circle cx="1428.61" cy="1189.87" r="2.85" fill="#399a27"/>
<circle cx="1388.61" cy="1244.88" r="2.85" fill="#ff2b2b"/>
<circle cx="1461.3" cy="1518.42" r="2.85" fill="#ff2b2b"/>
<circle cx="1436.97" cy="1235.33" r="2.85" fill="#ff2b2b"/>
<circle cx="1426.16" cy="1358.66" r="2.85" fill="#ff2b2b"/>
<circle cx="1448.88" cy="1045.34" r="2.85" fill="#399a27"/>
<circle cx="1471.46" cy="1328.37" r="2.85" fill="#ff2b2b"/>
<circle cx="1400.45" cy="1448.79" r="2.85" fill="#ff2b2b"/>
<circle cx="1436.86" cy="1226.85" r="2.85" fill="#c9b12f"/>
<circle cx="1360.32" cy="1386.99" r="2.85" fill="#c9b12f"/>
<circle cx="1357.54" cy="1500.17" r="2.85" fill="#ff2b2b"/>
<circle cx="1457.53" cy="1490.13" r="2.85" fill="#399a27"/>
<circle cx="1458.96" cy="1204.4" r="2.85" fill="#399a27"/>
<circle cx="1375.49" cy="1469.44" r="2.85" fill="#399a27"/>
<circle cx="1391.95" cy="1110.2" r="2.85" fill="#399a27"/>
<circle cx="1486.2" cy="1416.4" r="2.85" fill="#399a27"/>
<circle cx="1253.39" cy="1535.57" r="2.85" fill="#399a27"/>
<circle cx="1433" cy="1174.84" r="2.85" fill="#c9b12f"/>
<circle cx="1070.64" cy="1538.25" r="2.85" fill="#ff2b2b"/>
<circle cx="1461.24" cy="1415.33" r="2.85" fill="#ff2b2b"/>
<circle cx="1358.77" cy="1453.66" r="2.85" fill="#ff2b2b"/>
<circle cx="1427.23" cy="1524.04" r="2.85" fill="#ff2b2b"/>
<circle cx="1306.01" cy="1462.11" r="2.85" fill="#399a27"/>
<circle cx="1395.72" cy="1176.55" r="2.85" fill="#ff2b2b"/>
<circle cx="1407.33" cy="1328.6" r="2.85" fill="#c9b12f"/>
<circle cx="1383.86" cy="1288.16" r="2.85" fill="#c9b12f"/>
<circle cx="1449.76" cy="1313.33" r="2.85" fill="#399a27"/>
<circle cx="1427.77" cy="1070.53" r="2.85" fill="#399a27"/>
<circle cx="1429.59" cy="1419.23" r="2.85" fill="#399a27"/>
<circle cx="1479.21" cy="1173.55" r="2.85" fill="#c9b12f"/>
<circle cx="1482.9" cy="1378.52" r="2.85" fill="#ff2b2b"/>
<circle cx="1437.82" cy="1124.55" r="2.85" fill="#c9b12f"/>
<circle cx="1443.9" cy="1065.37" r="2.85" fill="#ff2b2b"/>
<circle cx="1400.8" cy="1413.02" r="2.85" fill="#ff2b2b"/>
<circle cx="1425.54" cy="1441.29" r="2.85" fill="#c9b12f"/>
<circle cx="1454.89" cy="1292.08" r="2.85" fill="#399a27"/>
<circle cx="1455.87" cy="1465.91" r="2.85" fill="#c9b12f"/>
<circle cx="1456.74" cy="1320.62" r="2.85" fill="#ff2b2b"/>
<circle cx="1465.32" cy="1457.65" r="2.85" fill="#ff2b2b"/>
<circle cx="1474.8" cy="1095.01" r="2.85" fill="#c9b12f"/>
<circle cx="1465.16" cy="1319.28" r="2.85" fill="#ff2b2b"/>
<circle cx="1394.26" cy="1526.1" r="2.85" fill="#399a27"/>
<circle cx="1413.34" cy="1209.96" r="2.85" fill="#ff2b2b"/>
<circle cx="1394.28" cy="1379.13" r="2.85" fill="#ff2b2b"/>
<circle cx="1406.56" cy="1495.54" r="2.85" fill="#399a27"/>
<circle cx="1461.64" cy="1240.22" r="2.85" fill="#399a27"/>
<circle cx="1469.57" cy="1122.91" r="2.85" fill="#399a27"/>
<circle cx="1432" cy="1286.11" r="2.85" fill="#399a27"/>
<circle cx="1445.03" cy="1353.92" r="2.85" fill="#399a27"/>
<circle cx="1455.61" cy="1441.65" r="2.85" fill="#399a27"/>
<circle cx="1450.08" cy="1115.05" r="2.85" fill="#399a27"/>
<circle cx="1451" cy="1459.12" r="2.85" fill="#399a27"/>
<circle cx="1419.63" cy="1477.75" r="2.85" fill="#399a27"/>
<circle cx="1333.85" cy="1433.78" r="2.85" fill="#399a27"/>
<circle cx="1152.84" cy="1536.3" r="2.85" fill="#399a27"/>
<circle cx="1421.19" cy="1361.99" r="2.85" fill="#ff2b2b"/>
<circle cx="1450.05" cy="1131.18" r="2.85" fill="#399a27"/>
<circle cx="1404.91" cy="1046.94" r="2.85" fill="#ff2b2b"/>
<circle cx="1428.65" cy="1388.23" r="2.85" fill="#399a27"/>
<circle cx="1408.47" cy="1284.94" r="2.85" fill="#399a27"/>
<circle cx="1423.2" cy="1439.7" r="2.85" fill="#399a27"/>
<circle cx="1411.32" cy="1298.54" r="2.85" fill="#399a27"/>
<circle cx="1449.53" cy="1255.21" r="2.85" fill="#399a27"/>
<circle cx="1382.34" cy="1367.34" r="2.85" fill="#ff2b2b"/>
<circle cx="1401.83" cy="1472.5" r="2.85" fill="#c9b12f"/>
<circle cx="1468.29" cy="1275.38" r="2.85" fill="#ff2b2b"/>
<circle cx="1318.92" cy="1428.93" r="2.85" fill="#c9b12f"/>
<circle cx="1347.74" cy="1330.63" r="2.85" fill="#ff2b2b"/>
<circle cx="1247.16" cy="1519.79" r="2.85" fill="#399a27"/>
<circle cx="1390.96" cy="1108.32" r="2.85" fill="#399a27"/>
<circle cx="1424.21" cy="1375.28" r="2.85" fill="#399a27"/>
<circle cx="1446.62" cy="1325.44" r="2.85" fill="#ff2b2b"/>
<circle cx="1442.46" cy="1021.87" r="2.85" fill="#399a27"/>
<circle cx="1428.85" cy="1308.51" r="2.85" fill="#399a27"/>
<circle cx="1485.43" cy="1430.51" r="2.85" fill="#399a27"/>
<circle cx="1425.92" cy="1429.19" r="2.85" fill="#ff2b2b"/>
<circle cx="1488.56" cy="1471.12" r="2.85" fill="#ff2b2b"/>
<circle cx="1314.18" cy="1489.39" r="2.85" fill="#c9b12f"/>
<circle cx="1486.38" cy="1398.09" r="2.85" fill="#ff2b2b"/>
<circle cx="1398.5" cy="1223.24" r="2.85" fill="#399a27"/>
<circle cx="1456.62" cy="1346.65" r="2.85" fill="#399a27"/>
<circle cx="1449.53" cy="1379.75" r="2.85" fill="#399a27"/>
<circle cx="1444.84" cy="1057.36" r="2.85" fill="#399a27"/>
<circle cx="1447.32" cy="1190.79" r="2.85" fill="#c9b12f"/>
<circle cx="1453.84" cy="1418.14" r="2.85" fill="#ff2b2b"/>
<circle cx="1432.68" cy="1509.06" r="2.85" fill="#399a27"/>
<circle cx="1455.66" cy="1247.63" r="2.85" fill="#ff2b2b"/>
<circle cx="1383.38" cy="1420.1" r="2.85" fill="#ff2b2b"/>
<circle cx="1262.33" cy="1529.12" r="2.85" fill="#399a27"/>
<circle cx="1409.03" cy="1051.37" r="2.85" fill="#399a27"/>
<circle cx="1385.43" cy="1324.38" r="2.85" fill="#ff2b2b"/>
<circle cx="1439.77" cy="1114.16" r="2.85" fill="#c9b12f"/>
<circle cx="1349.88" cy="1320.59" r="2.85" fill="#c9b12f"/>
<circle cx="1334.74" cy="1413.96" r="2.85" fill="#399a27"/>
<circle cx="1390.1" cy="1114.77" r="2.85" fill="#c9b12f"/>
<circle cx="1359.45" cy="1503.02" r="2.85" fill="#399a27"/>
<circle cx="1392.43" cy="1346.18" r="2.85" fill="#ff2b2b"/>
<circle cx="1484.71" cy="1395.55" r="2.85" fill="#399a27"/>
<circle cx="1449.63" cy="1239.68" r="2.85" fill="#399a27"/>
<circle cx="1487.97" cy="1221.89" r="2.85" fill="#399a27"/>
<circle cx="1285" cy="1454.99" r="2.85" fill="#399a27"/>
<circle cx="1262.6" cy="1533.18" r="2.85" fill="#399a27"/>
<circle cx="1489.97" cy="1119.25" r="2.85" fill="#ff2b2b"/>
<circle cx="1461.03" cy="1342.28" r="2.85" fill="#ff2b2b"/>
<circle cx="1398.28" cy="1165.51" r="2.85" fill="#399a27"/>
<circle cx="1455.44" cy="1407.9" r="2.85" fill="#399a27"/>
<circle cx="1412.04" cy="1382.82" r="2.85" fill="#ff2b2b"/>
<circle cx="1474.41" cy="1201.28" r="2.85" fill="#c9b12f"/>
<circle cx="1482.03" cy="1322.62" r="2.85" fill="#ff2b2b"/>
<circle cx="1340.64" cy="1481.98" r="2.85" fill="#399a27"/>
<circle cx="1475.1" cy="1021.07" r="2.85" fill="#c9b12f"/>
<circle cx="1435.82" cy="1374.68" r="2.85" fill="#399a27"/>
<circle cx="1427.7" cy="1475.63" r="2.85" fill="#399a27"/>
<circle cx="1437.72" cy="1258.69" r="2.85" fill="#399a27"/>
<circle cx="1420.96" cy="1198.43" r="2.85" fill="#399a27"/>
<circle cx="1360.44" cy="1515.49" r="2.85" fill="#c9b12f"/>
<circle cx="1415.33" cy="1502.11" r="2.85" fill="#c9b12f"/>
<circle cx="1488.54" cy="1439.36" r="2.85" fill="#c9b12f"/>
<circle cx="1395.19" cy="1328.89" r="2.85" fill="#399a27"/>
<circle cx="1449.4" cy="1068.82" r="2.85" fill="#ff2b2b"/>
<circle cx="1469.15" cy="1393.83" r="2.85" fill="#399a27"/>
<circle cx="1480.17" cy="1050.68" r="2.85" fill="#399a27"/>
<circle cx="1475.61" cy="1034.3" r="2.85" fill="#399a27"/>
<circle cx="1466.47" cy="1309.8" r="2.85" fill="#399a27"/>
<circle cx="1401.33" cy="1289.02" r="2.85" fill="#399a27"/>
<circle cx="1489.41" cy="1205.82" r="2.85" fill="#c9b12f"/>
<circle cx="1414.71" cy="1521.01" r="2.85" fill="#ff2b2b"/>
<circle cx="1412.52" cy="1098.59" r="2.85" fill="#399a27"/>
<circle cx="1419.73" cy="1438.7" r="2.85" fill="#ff2b2b"/>
<circle cx="1453.18" cy="1336.35" r="2.85" fill="#c9b12f"/>
<circle cx="1385.78" cy="1207.46" r="2.85" fill="#ff2b2b"/>
<circle cx="1398.09" cy="1299.97" r="2.85" fill="#399a27"/>
<circle cx="1418.09" cy="1372.89" r="2.85" fill="#ff2b2b"/>
<circle cx="1478.86" cy="1141.77" r="2.85" fill="#ff2b2b"/>
<circle cx="1399.66" cy="1244.87" r="2.85" fill="#c9b12f"/>
<circle cx="1473.52" cy="1453.94" r="2.85" fill="#399a27"/>
<circle cx="1451" cy="962.75" r="2.85" fill="#c9b12f"/>
<circle cx="1407.23" cy="1031.55" r="2.85" fill="#c9b12f"/>
<circle cx="1438.84" cy="997.91" r="2.85" fill="#399a27"/>
<circle cx="1420.68" cy="1252.12" r="2.85" fill="#399a27"/>
<circle cx="1480.2" cy="1497.41" r="2.85" fill="#c9b12f"/>
<circle cx="1386.33" cy="1501.66" r="2.85" fill="#399a27"/>
<circle cx="1469.05" cy="1538.34" r="2.85" fill="#ff2b2b"/>
<circle cx="1036.55" cy="1536.27" r="2.85" fill="#399a27"/>
<circle cx="1445.29" cy="1152.57" r="2.85" fill="#399a27"/>
<circle cx="1358.56" cy="1256.83" r="2.85" fill="#399a27"/>
<circle cx="1428.76" cy="1222.77" r="2.85" fill="#ff2b2b"/>
<circle cx="1377.99" cy="1341.88" r="2.85" fill="#399a27"/>
<circle cx="1453.64" cy="1419.76" r="2.85" fill="#399a27"/>
<circle cx="1410.45" cy="1113.06" r="2.85" fill="#c9b12f"/>
<circle cx="1423.53" cy="1499.64" r="2.85" fill="#c9b12f"/>
<circle cx="1387.31" cy="1533.93" r="2.85" fill="#399a27"/>
<circle cx="1361.54" cy="1264.06" r="2.85" fill="#399a27"/>
<circle cx="846.82" cy="1537.45" r="2.85" fill="#399a27"/>
<circle cx="1469.87" cy="1335.77" r="2.85" fill="#399a27"/>
<circle cx="1486.81" cy="1292.37" r="2.85" fill="#399a27"/>
<circle cx="1383.53" cy="1469.5" r="2.85" fill="#399a27"/>
<circle cx="1389.42" cy="1444.59" r="2.85" fill="#ff2b2b"/>
<circle cx="1410.64" cy="1235.02" r="2.85" fill="#ff2b2b"/>
<circle cx="1414.05" cy="1493.53" r="2.85" fill="#c9b12f"/>
<circle cx="1457.77" cy="1158.25" r="2.85" fill="#399a27"/>
<circle cx="1407.28" cy="1329.89" r="2.85" fill="#ff2b2b"/>
<circle cx="1418.15" cy="1288.01" r="2.85" fill="#399a27"/>
<circle cx="1482.03" cy="1523.37" r="2.85" fill="#ff2b2b"/>
<circle cx="1483.93" cy="1104.59" r="2.85" fill="#c9b12f"/>
<circle cx="1478.53" cy="1268.89" r="2.85" fill="#399a27"/>
<circle cx="1482.7" cy="1161.47" r="2.85" fill="#399a27"/>
<circle cx="1483.25" cy="1115.36" r="2.85" fill="#399a27"/>
<circle cx="1486.64" cy="1125.07" r="2.85" fill="#c9b12f"/>
<circle cx="1482.94" cy="1158.21" r="2.85" fill="#ff2b2b"/>
<circle cx="1482.52" cy="1231.49" r="2.85" fill="#399a27"/>
<circle cx="1480.14" cy="1507.08" r="2.85" fill="#399a27"/>
<circle cx="1483.22" cy="1341.12" r="2.85" fill="#399a27"/>
<circle cx="1479.82" cy="1469.25" r="2.85" fill="#ff2b2b"/>
<circle cx="1481.83" cy="1471.12" r="2.85" fill="#399a27"/>
<circle cx="1483.36" cy="1435.16" r="2.85" fill="#c9b12f"/>
<circle cx="1481.37" cy="1529.59" r="2.85" fill="#399a27"/>
<circle cx="1481.19" cy="1298.76" r="2.85" fill="#ff2b2b"/>
<circle cx="1484.48" cy="1286.34" r="2.85" fill="#ff2b2b"/>
<circle cx="1481.02" cy="1259.14" r="2.85" fill="#ff2b2b"/>
<circle cx="1488.69" cy="1205.27" r="2.85" fill="#399a27"/>
<circle cx="1483.64" cy="1188.19" r="2.85" fill="#ff2b2b"/>
<circle cx="1489.28" cy="1198.98" r="2.85" fill="#c9b12f"/>
<circle cx="1488.67" cy="1309.98" r="2.85" fill="#399a27"/>
<circle cx="1479.42" cy="1311.09" r="2.85" fill="#c9b12f"/>
<circle cx="1482.58" cy="1177.21" r="2.85" fill="#c9b12f"/>
<circle cx="1479.89" cy="1319.48" r="2.85" fill="#ff2b2b"/>
<circle cx="1484.12" cy="1202.27" r="2.85" fill="#ff2b2b"/>
<circle cx="1482.04" cy="1376.8" r="2.85" fill="#ff2b2b"/>
<circle cx="1487.62" cy="1435.72" r="2.85" fill="#399a27"/>
<circle cx="1481.24" cy="1374.73" r="2.85" fill="#ff2b2b"/>
<circle cx="1488.72" cy="1288.41" r="2.85" fill="#399a27"/>
<circle cx="1478.89" cy="1055.41" r="2.85" fill="#c9b12f"/>
<circle cx="1481.88" cy="1067.69" r="2.85" fill="#ff2b2b"/>
<circle cx="1478.78" cy="1206.99" r="2.85" fill="#ff2b2b"/>
<circle cx="1486.21" cy="1176.8" r="2.85" fill="#c9b12f"/>
<circle cx="1483.37" cy="1453.36" r="2.85" fill="#399a27"/>
<circle cx="1485.76" cy="1517.9" r="2.85" fill="#399a27"/>
<circle cx="1412.96" cy="1520.97" r="2.85" fill="#ff2b2b"/>
<circle cx="1414.62" cy="1138.66" r="2.85" fill="#399a27"/>
<circle cx="1414.58" cy="1186.95" r="2.85" fill="#c9b12f"/>
<circle cx="1415.5" cy="1092.74" r="2.85" fill="#399a27"/>
<circle cx="1414.57" cy="1488.8" r="2.85" fill="#399a27"/>
<circle cx="1413.41" cy="1408.77" r="2.85" fill="#399a27"/>
<circle cx="1421.6" cy="1079.27" r="2.85" fill="#399a27"/>
<circle cx="1415.8" cy="1251" r="2.85" fill="#399a27"/>
<circle cx="1412.79" cy="1084.43" r="2.85" fill="#c9b12f"/>
<circle cx="1413.92" cy="1443.32" r="2.85" fill="#399a27"/>
<circle cx="1415.77" cy="1323.93" r="2.85" fill="#399a27"/>
<circle cx="1417.89" cy="1100.47" r="2.85" fill="#399a27"/>
<circle cx="1414.45" cy="1291.62" r="2.85" fill="#399a27"/>
<circle cx="1412.18" cy="1195.17" r="2.85" fill="#399a27"/>
<circle cx="1418.78" cy="1447.85" r="2.85" fill="#399a27"/>
<circle cx="1415.94" cy="1142.27" r="2.85" fill="#399a27"/>
<circle cx="1413.1" cy="1298.56" r="2.85" fill="#399a27"/>
<circle cx="1418.46" cy="1052.46" r="2.85" fill="#399a27"/>
<circle cx="1416.19" cy="1533.82" r="2.85" fill="#c9b12f"/>
<circle cx="1414.45" cy="1089.08" r="2.85" fill="#399a27"/>
<line x1="235" y1="1540.4" x2="1596.5" y2="1540.4" stroke="#505050" stroke-width="1.2"/>
<path d="M247.2,1648 V1661.6 H1499.4 V1648" fill="none" stroke="#444444" stroke-width="7.6" stroke-linejoin="round" stroke-linecap="round"/>
<line x1="376.04" y1="1648.2" x2="376.04" y2="1661" stroke="#444444" stroke-width="7.6" stroke-linecap="round"/>
<line x1="504.88" y1="1648.2" x2="504.88" y2="1661" stroke="#444444" stroke-width="7.6" stroke-linecap="round"/>
<line x1="633.72" y1="1648.2" x2="633.72" y2="1661" stroke="#444444" stroke-width="7.6" stroke-linecap="round"/>
<line x1="762.56" y1="1648.2" x2="762.56" y2="1661" stroke="#444444" stroke-width="7.6" stroke-linecap="round"/>
<line x1="891.4" y1="1648.2" x2="891.4" y2="1661" stroke="#444444" stroke-width="7.6" stroke-linecap="round"/>
<line x1="1020.24" y1="1648.2" x2="1020.24" y2="1661" stroke="#444444" stroke-width="7.6" stroke-linecap="round"/>
<line x1="1149.08" y1="1648.2" x2="1149.08" y2="1661" stroke="#444444" stroke-width="7.6" stroke-linecap="round"/>
<line x1="1277.92" y1="1648.2" x2="1277.92" y2="1661" stroke="#444444" stroke-width="7.6" stroke-linecap="round"/>
<line x1="1406.76" y1="1648.2" x2="1406.76" y2="1661" stroke="#444444" stroke-width="7.6" stroke-linecap="round"/>
<text x="356.44" y="1643.6" transform="rotate(-45 356.44 1643.6)" class="tick">1000</text>
<text x="485.88" y="1643.6" transform="rotate(-45 485.88 1643.6)" class="tick">2000</text>
<text x="612.92" y="1643.6" transform="rotate(-45 612.92 1643.6)" class="tick">3000</text>
<text x="747.96" y="1640" transform="rotate(-45 747.96 1640)" class="tick">4000</text>
<text x="870.9" y="1643.6" transform="rotate(-45 870.9 1643.6)" class="tick">5000</text>
<text x="998.24" y="1643.6" transform="rotate(-45 998.24 1643.6)" class="tick">6000</text>
<text x="1129.28" y="1643.6" transform="rotate(-45 1129.28 1643.6)" class="tick">7000</text>
<text x="1258.92" y="1643.6" transform="rotate(-45 1258.92 1643.6)" class="tick">8000</text>
<text x="1385.96" y="1643.6" transform="rotate(-45 1385.96 1643.6)" class="tick">9000</text>
<text x="1484.6" y="1643.6" transform="rotate(-45 1484.6 1643.6)" class="tick">9719</text>
<rect x="247" y="1706.3" width="101.8" height="41.7" rx="9" fill="#434343"/>
<rect x="349.3" y="1706.3" width="193.9" height="41.7" rx="9" fill="#434343"/>
<rect x="515.2" y="1770.9" width="389.2" height="41.1" rx="9" fill="#434343"/>
<rect x="896" y="1707.2" width="76" height="40.8" rx="9" fill="#434343"/>
<rect x="994.1" y="1706.7" width="32.4" height="41.8" rx="9" fill="#434343"/>
<rect x="1321.6" y="1705.6" width="21.6" height="40.8" rx="9" fill="#434343"/>
<rect x="1418" y="1705.2" width="88" height="41.2" rx="9" fill="#434343"/>
<rect x="953.6" y="1770.8" width="56.8" height="41.2" rx="9" fill="#434343"/>
<rect x="1010.8" y="1769.2" width="21.4" height="43.8" rx="9" fill="#434343"/>
<rect x="1034" y="1770.2" width="58.5" height="41.5" rx="9" fill="#434343"/>
<rect x="1324.8" y="1768.8" width="21.6" height="41.6" rx="9" fill="#434343"/>
<rect x="1052.4" y="1834" width="328.8" height="40.4" rx="9" fill="#434343"/>
<rect x="1382" y="1834" width="78.8" height="40.4" rx="9" fill="#434343"/>
<path d="M1011.1,1708 V1701.3 H1332.4 V1707" fill="none" stroke="#434343" stroke-width="3.6"/>
<path d="M1021.1,1770 V1764.9 H1337.2 V1770" fill="none" stroke="#434343" stroke-width="3.6"/>
<text x="298.5" y="1737" class="gl">5' LTR</text>
<text x="445.7" y="1733.4" class="gl">Gag</text>
<text x="710" y="1801.2" class="gl">Pol</text>
<text x="934.4" y="1736.8" class="gl">Vif</text>
<text x="1462" y="1735.2" class="gl">3' LTR</text>
<text x="982.4" y="1798" class="gl">Vpr</text>
<text x="1062.3" y="1798.1" class="gl">Vpu</text>
<text x="1217.2" y="1863.2" class="gl">Env</text>
<text x="1421.4" y="1863.2" class="gl">Nef</text>
<text x="1167.3" y="1724.2" class="gl2">Tat</text>
<text x="1176.9" y="1787.4" class="gl2">Rev</text>
</svg>
</body></html>
